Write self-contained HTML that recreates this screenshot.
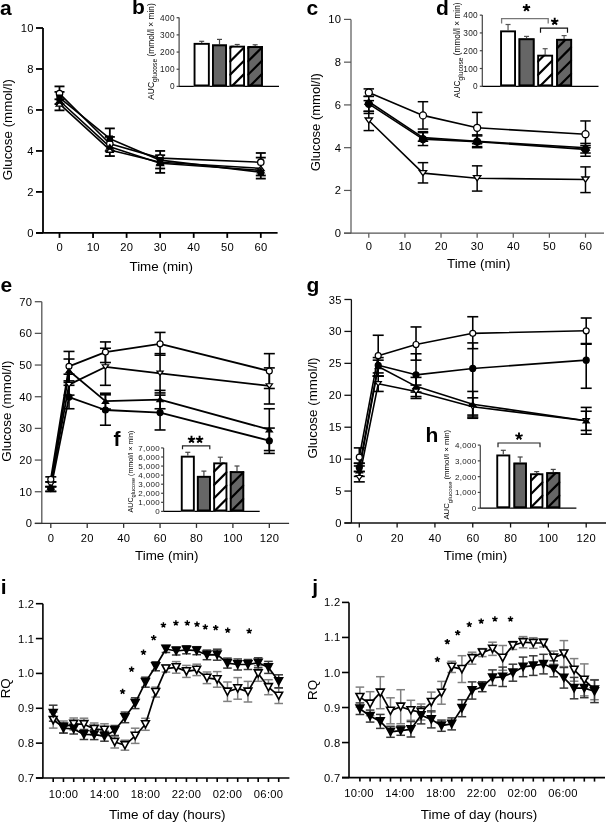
<!DOCTYPE html>
<html><head><meta charset="utf-8"><style>
html,body{margin:0;padding:0;background:#fff;}
svg{display:block;font-family:"Liberation Sans", sans-serif;will-change:transform;}
</style></head><body>
<svg width="606" height="822" viewBox="0 0 606 822">
<rect width="606" height="822" fill="#fff"/>
<text x="0.00" y="14.70" font-size="21" text-anchor="start" font-weight="bold" fill="#000">a</text>
<line x1="43.00" y1="28.00" x2="43.00" y2="232.90" stroke="#000" stroke-width="1.8"/>
<line x1="36.00" y1="232.90" x2="43.00" y2="232.90" stroke="#000" stroke-width="1.8"/>
<text x="33.70" y="236.93" font-size="11.2" text-anchor="end" font-weight="normal" fill="#000" letter-spacing="0.3">0</text>
<line x1="36.00" y1="191.92" x2="43.00" y2="191.92" stroke="#000" stroke-width="1.8"/>
<text x="33.70" y="195.95" font-size="11.2" text-anchor="end" font-weight="normal" fill="#000" letter-spacing="0.3">2</text>
<line x1="36.00" y1="150.94" x2="43.00" y2="150.94" stroke="#000" stroke-width="1.8"/>
<text x="33.70" y="154.97" font-size="11.2" text-anchor="end" font-weight="normal" fill="#000" letter-spacing="0.3">4</text>
<line x1="36.00" y1="109.96" x2="43.00" y2="109.96" stroke="#000" stroke-width="1.8"/>
<text x="33.70" y="113.99" font-size="11.2" text-anchor="end" font-weight="normal" fill="#000" letter-spacing="0.3">6</text>
<line x1="36.00" y1="68.98" x2="43.00" y2="68.98" stroke="#000" stroke-width="1.8"/>
<text x="33.70" y="73.01" font-size="11.2" text-anchor="end" font-weight="normal" fill="#000" letter-spacing="0.3">8</text>
<line x1="36.00" y1="28.00" x2="43.00" y2="28.00" stroke="#000" stroke-width="1.8"/>
<text x="33.70" y="32.03" font-size="11.2" text-anchor="end" font-weight="normal" fill="#000" letter-spacing="0.3">10</text>
<line x1="36.00" y1="232.90" x2="277.60" y2="232.90" stroke="#000" stroke-width="1.8"/>
<line x1="59.50" y1="232.90" x2="59.50" y2="237.90" stroke="#000" stroke-width="1.8"/>
<text x="59.65" y="251.10" font-size="11.2" text-anchor="middle" font-weight="normal" fill="#000" letter-spacing="0.3">0</text>
<line x1="93.05" y1="232.90" x2="93.05" y2="237.90" stroke="#000" stroke-width="1.8"/>
<text x="93.20" y="251.10" font-size="11.2" text-anchor="middle" font-weight="normal" fill="#000" letter-spacing="0.3">10</text>
<line x1="126.60" y1="232.90" x2="126.60" y2="237.90" stroke="#000" stroke-width="1.8"/>
<text x="126.75" y="251.10" font-size="11.2" text-anchor="middle" font-weight="normal" fill="#000" letter-spacing="0.3">20</text>
<line x1="160.15" y1="232.90" x2="160.15" y2="237.90" stroke="#000" stroke-width="1.8"/>
<text x="160.30" y="251.10" font-size="11.2" text-anchor="middle" font-weight="normal" fill="#000" letter-spacing="0.3">30</text>
<line x1="193.70" y1="232.90" x2="193.70" y2="237.90" stroke="#000" stroke-width="1.8"/>
<text x="193.85" y="251.10" font-size="11.2" text-anchor="middle" font-weight="normal" fill="#000" letter-spacing="0.3">40</text>
<line x1="227.25" y1="232.90" x2="227.25" y2="237.90" stroke="#000" stroke-width="1.8"/>
<text x="227.40" y="251.10" font-size="11.2" text-anchor="middle" font-weight="normal" fill="#000" letter-spacing="0.3">50</text>
<line x1="260.80" y1="232.90" x2="260.80" y2="237.90" stroke="#000" stroke-width="1.8"/>
<text x="260.95" y="251.10" font-size="11.2" text-anchor="middle" font-weight="normal" fill="#000" letter-spacing="0.3">60</text>
<text x="161.20" y="270.60" font-size="13.4" text-anchor="middle" font-weight="normal" fill="#000">Time (min)</text>
<text x="12.00" y="129.60" font-size="13.4" text-anchor="middle" font-weight="normal" fill="#000" transform="rotate(-90 12.00 129.60)">Glucose (mmol/l)</text>
<line x1="59.50" y1="86.40" x2="59.50" y2="110.37" stroke="#000" stroke-width="1.8"/>
<line x1="54.50" y1="86.40" x2="64.50" y2="86.40" stroke="#000" stroke-width="1.8"/>
<line x1="54.50" y1="110.37" x2="64.50" y2="110.37" stroke="#000" stroke-width="1.8"/>
<line x1="109.83" y1="128.40" x2="109.83" y2="156.06" stroke="#000" stroke-width="1.8"/>
<line x1="104.83" y1="128.40" x2="114.83" y2="128.40" stroke="#000" stroke-width="1.8"/>
<line x1="104.83" y1="156.06" x2="114.83" y2="156.06" stroke="#000" stroke-width="1.8"/>
<line x1="160.15" y1="150.94" x2="160.15" y2="172.86" stroke="#000" stroke-width="1.8"/>
<line x1="155.15" y1="150.94" x2="165.15" y2="150.94" stroke="#000" stroke-width="1.8"/>
<line x1="155.15" y1="172.86" x2="165.15" y2="172.86" stroke="#000" stroke-width="1.8"/>
<line x1="260.80" y1="152.99" x2="260.80" y2="178.60" stroke="#000" stroke-width="1.8"/>
<line x1="255.80" y1="152.99" x2="265.80" y2="152.99" stroke="#000" stroke-width="1.8"/>
<line x1="255.80" y1="178.60" x2="265.80" y2="178.60" stroke="#000" stroke-width="1.8"/>
<line x1="54.50" y1="91.90" x2="64.50" y2="91.90" stroke="#000" stroke-width="1.8"/>
<line x1="54.50" y1="99.30" x2="64.50" y2="99.30" stroke="#000" stroke-width="1.8"/>
<line x1="54.50" y1="104.10" x2="64.50" y2="104.10" stroke="#000" stroke-width="1.8"/>
<line x1="104.83" y1="136.90" x2="114.83" y2="136.90" stroke="#000" stroke-width="1.8"/>
<line x1="104.83" y1="151.00" x2="114.83" y2="151.00" stroke="#000" stroke-width="1.8"/>
<line x1="155.15" y1="155.20" x2="165.15" y2="155.20" stroke="#000" stroke-width="1.8"/>
<line x1="155.15" y1="168.50" x2="165.15" y2="168.50" stroke="#000" stroke-width="1.8"/>
<line x1="255.80" y1="157.60" x2="265.80" y2="157.60" stroke="#000" stroke-width="1.8"/>
<line x1="255.80" y1="175.50" x2="265.80" y2="175.50" stroke="#000" stroke-width="1.8"/>
<polyline points="59.50,93.57 109.83,143.77 160.15,158.11 260.80,162.21" fill="none" stroke="#000" stroke-width="1.6" stroke-linejoin="round"/>
<polyline points="59.50,97.67 109.83,138.65 160.15,160.16 260.80,172.25" fill="none" stroke="#000" stroke-width="1.6" stroke-linejoin="round"/>
<polyline points="59.50,103.81 109.83,149.92 160.15,162.21 260.80,168.36" fill="none" stroke="#000" stroke-width="1.6" stroke-linejoin="round"/>
<polyline points="59.50,100.74 109.83,146.84 160.15,163.23 260.80,170.41" fill="none" stroke="#000" stroke-width="1.6" stroke-linejoin="round"/>
<circle cx="59.50" cy="93.57" r="3.20" fill="#fff" stroke="#000" stroke-width="1.3"/>
<circle cx="109.83" cy="143.77" r="3.20" fill="#fff" stroke="#000" stroke-width="1.3"/>
<circle cx="160.15" cy="158.11" r="3.20" fill="#fff" stroke="#000" stroke-width="1.3"/>
<circle cx="260.80" cy="162.21" r="3.20" fill="#fff" stroke="#000" stroke-width="1.3"/>
<rect x="56.30" y="94.47" width="6.40" height="6.40" fill="#000"/>
<rect x="106.62" y="135.45" width="6.40" height="6.40" fill="#000"/>
<rect x="156.95" y="156.96" width="6.40" height="6.40" fill="#000"/>
<rect x="257.60" y="169.05" width="6.40" height="6.40" fill="#000"/>
<polygon points="56.14,106.13 62.86,106.13 59.50,101.49" fill="#fff" stroke="#000" stroke-width="1.3" stroke-linejoin="miter"/>
<polygon points="106.47,152.24 113.19,152.24 109.83,147.60" fill="#fff" stroke="#000" stroke-width="1.3" stroke-linejoin="miter"/>
<polygon points="156.79,164.53 163.51,164.53 160.15,159.89" fill="#fff" stroke="#000" stroke-width="1.3" stroke-linejoin="miter"/>
<polygon points="257.44,170.68 264.16,170.68 260.80,166.04" fill="#fff" stroke="#000" stroke-width="1.3" stroke-linejoin="miter"/>
<polygon points="56.14,103.06 62.86,103.06 59.50,98.42" fill="#000" stroke="#000" stroke-width="1.3" stroke-linejoin="miter"/>
<polygon points="106.47,149.16 113.19,149.16 109.83,144.52" fill="#000" stroke="#000" stroke-width="1.3" stroke-linejoin="miter"/>
<polygon points="156.79,165.55 163.51,165.55 160.15,160.91" fill="#000" stroke="#000" stroke-width="1.3" stroke-linejoin="miter"/>
<polygon points="257.44,172.73 264.16,172.73 260.80,168.09" fill="#000" stroke="#000" stroke-width="1.3" stroke-linejoin="miter"/>
<text x="132.00" y="14.40" font-size="21" text-anchor="start" font-weight="bold" fill="#000">b</text>
<line x1="179.10" y1="17.60" x2="179.10" y2="86.40" stroke="#444" stroke-width="1.2"/>
<line x1="176.60" y1="86.40" x2="179.10" y2="86.40" stroke="#444" stroke-width="1.2"/>
<text x="174.80" y="89.39" font-size="8.3" text-anchor="end" font-weight="normal" fill="#222" letter-spacing="0.3">0</text>
<line x1="176.60" y1="69.23" x2="179.10" y2="69.23" stroke="#444" stroke-width="1.2"/>
<text x="174.80" y="72.22" font-size="8.3" text-anchor="end" font-weight="normal" fill="#222" letter-spacing="0.3">100</text>
<line x1="176.60" y1="52.06" x2="179.10" y2="52.06" stroke="#444" stroke-width="1.2"/>
<text x="174.80" y="55.05" font-size="8.3" text-anchor="end" font-weight="normal" fill="#222" letter-spacing="0.3">200</text>
<line x1="176.60" y1="34.89" x2="179.10" y2="34.89" stroke="#444" stroke-width="1.2"/>
<text x="174.80" y="37.88" font-size="8.3" text-anchor="end" font-weight="normal" fill="#222" letter-spacing="0.3">300</text>
<line x1="176.60" y1="17.72" x2="179.10" y2="17.72" stroke="#444" stroke-width="1.2"/>
<text x="174.80" y="20.71" font-size="8.3" text-anchor="end" font-weight="normal" fill="#222" letter-spacing="0.3">400</text>
<line x1="179.10" y1="86.40" x2="279.00" y2="86.40" stroke="#000" stroke-width="1.2"/>
<text x="154.20" y="99.70" font-size="8.4" fill="#000" transform="rotate(-90 154.20 99.70)">AUC<tspan font-size="6.72" dy="2.52">glucose</tspan><tspan dy="-2.52"> (mmol/l × min)</tspan></text>
<line x1="201.70" y1="42.90" x2="201.70" y2="41.30" stroke="#444" stroke-width="1.2"/>
<line x1="199.20" y1="41.30" x2="204.20" y2="41.30" stroke="#444" stroke-width="1.2"/>
<rect x="193.60" y="42.90" width="16.20" height="43.50" fill="#fff" stroke="none"/>
<rect x="194.55" y="43.85" width="14.30" height="41.60" fill="none" stroke="#000" stroke-width="1.9"/>
<line x1="219.50" y1="44.40" x2="219.50" y2="39.40" stroke="#444" stroke-width="1.2"/>
<line x1="217.00" y1="39.40" x2="222.00" y2="39.40" stroke="#444" stroke-width="1.2"/>
<rect x="212.00" y="44.40" width="15.00" height="42.00" fill="#666" stroke="none"/>
<rect x="212.95" y="45.35" width="13.10" height="40.10" fill="none" stroke="#000" stroke-width="1.9"/>
<line x1="237.20" y1="45.70" x2="237.20" y2="44.50" stroke="#444" stroke-width="1.2"/>
<line x1="234.70" y1="44.50" x2="239.70" y2="44.50" stroke="#444" stroke-width="1.2"/>
<rect x="229.40" y="45.70" width="15.60" height="40.70" fill="#fff" stroke="none"/>
<g clip-path="url(#hb2)">
<clipPath id="hb2"><rect x="229.40" y="45.70" width="15.60" height="40.70"/></clipPath>
<line x1="229.40" y1="102.00" x2="245.00" y2="86.40" stroke="#000" stroke-width="2.2"/>
<line x1="229.40" y1="88.70" x2="245.00" y2="73.10" stroke="#000" stroke-width="2.2"/>
<line x1="229.40" y1="75.40" x2="245.00" y2="59.80" stroke="#000" stroke-width="2.2"/>
<line x1="229.40" y1="62.10" x2="245.00" y2="46.50" stroke="#000" stroke-width="2.2"/>
<line x1="229.40" y1="48.80" x2="245.00" y2="33.20" stroke="#000" stroke-width="2.2"/>
</g>
<rect x="230.35" y="46.65" width="13.70" height="38.80" fill="none" stroke="#000" stroke-width="1.9"/>
<line x1="255.15" y1="46.10" x2="255.15" y2="44.80" stroke="#444" stroke-width="1.2"/>
<line x1="252.65" y1="44.80" x2="257.65" y2="44.80" stroke="#444" stroke-width="1.2"/>
<rect x="247.40" y="46.10" width="15.50" height="40.30" fill="#666" stroke="none"/>
<g clip-path="url(#hb3)">
<clipPath id="hb3"><rect x="247.40" y="46.10" width="15.50" height="40.30"/></clipPath>
<line x1="247.40" y1="101.90" x2="262.90" y2="86.40" stroke="#000" stroke-width="2.2"/>
<line x1="247.40" y1="88.60" x2="262.90" y2="73.10" stroke="#000" stroke-width="2.2"/>
<line x1="247.40" y1="75.30" x2="262.90" y2="59.80" stroke="#000" stroke-width="2.2"/>
<line x1="247.40" y1="62.00" x2="262.90" y2="46.50" stroke="#000" stroke-width="2.2"/>
<line x1="247.40" y1="48.70" x2="262.90" y2="33.20" stroke="#000" stroke-width="2.2"/>
</g>
<rect x="248.35" y="47.05" width="13.60" height="38.40" fill="none" stroke="#000" stroke-width="1.9"/>
<text x="306.50" y="15.00" font-size="21" text-anchor="start" font-weight="bold" fill="#000">c</text>
<line x1="351.00" y1="19.40" x2="351.00" y2="233.20" stroke="#555" stroke-width="1.2"/>
<line x1="344.00" y1="233.20" x2="351.00" y2="233.20" stroke="#555" stroke-width="1.2"/>
<text x="341.40" y="237.23" font-size="11.2" text-anchor="end" font-weight="normal" fill="#000" letter-spacing="0.3">0</text>
<line x1="344.00" y1="190.44" x2="351.00" y2="190.44" stroke="#555" stroke-width="1.2"/>
<text x="341.40" y="194.47" font-size="11.2" text-anchor="end" font-weight="normal" fill="#000" letter-spacing="0.3">2</text>
<line x1="344.00" y1="147.68" x2="351.00" y2="147.68" stroke="#555" stroke-width="1.2"/>
<text x="341.40" y="151.71" font-size="11.2" text-anchor="end" font-weight="normal" fill="#000" letter-spacing="0.3">4</text>
<line x1="344.00" y1="104.92" x2="351.00" y2="104.92" stroke="#555" stroke-width="1.2"/>
<text x="341.40" y="108.95" font-size="11.2" text-anchor="end" font-weight="normal" fill="#000" letter-spacing="0.3">6</text>
<line x1="344.00" y1="62.16" x2="351.00" y2="62.16" stroke="#555" stroke-width="1.2"/>
<text x="341.40" y="66.19" font-size="11.2" text-anchor="end" font-weight="normal" fill="#000" letter-spacing="0.3">8</text>
<line x1="344.00" y1="19.40" x2="351.00" y2="19.40" stroke="#555" stroke-width="1.2"/>
<text x="341.40" y="23.43" font-size="11.2" text-anchor="end" font-weight="normal" fill="#000" letter-spacing="0.3">10</text>
<line x1="344.00" y1="233.20" x2="604.00" y2="233.20" stroke="#555" stroke-width="1.2"/>
<line x1="368.80" y1="233.20" x2="368.80" y2="237.70" stroke="#555" stroke-width="1.2"/>
<text x="368.95" y="249.70" font-size="11.2" text-anchor="middle" font-weight="normal" fill="#000" letter-spacing="0.3">0</text>
<line x1="404.92" y1="233.20" x2="404.92" y2="237.70" stroke="#555" stroke-width="1.2"/>
<text x="405.07" y="249.70" font-size="11.2" text-anchor="middle" font-weight="normal" fill="#000" letter-spacing="0.3">10</text>
<line x1="441.03" y1="233.20" x2="441.03" y2="237.70" stroke="#555" stroke-width="1.2"/>
<text x="441.18" y="249.70" font-size="11.2" text-anchor="middle" font-weight="normal" fill="#000" letter-spacing="0.3">20</text>
<line x1="477.15" y1="233.20" x2="477.15" y2="237.70" stroke="#555" stroke-width="1.2"/>
<text x="477.30" y="249.70" font-size="11.2" text-anchor="middle" font-weight="normal" fill="#000" letter-spacing="0.3">30</text>
<line x1="513.27" y1="233.20" x2="513.27" y2="237.70" stroke="#555" stroke-width="1.2"/>
<text x="513.42" y="249.70" font-size="11.2" text-anchor="middle" font-weight="normal" fill="#000" letter-spacing="0.3">40</text>
<line x1="549.38" y1="233.20" x2="549.38" y2="237.70" stroke="#555" stroke-width="1.2"/>
<text x="549.53" y="249.70" font-size="11.2" text-anchor="middle" font-weight="normal" fill="#000" letter-spacing="0.3">50</text>
<line x1="585.50" y1="233.20" x2="585.50" y2="237.70" stroke="#555" stroke-width="1.2"/>
<text x="585.65" y="249.70" font-size="11.2" text-anchor="middle" font-weight="normal" fill="#000" letter-spacing="0.3">60</text>
<text x="478.70" y="268.30" font-size="13.4" text-anchor="middle" font-weight="normal" fill="#000">Time (min)</text>
<text x="320.20" y="122.20" font-size="13.0" text-anchor="middle" font-weight="normal" fill="#000" transform="rotate(-90 320.20 122.20)">Glucose (mmol/l)</text>
<line x1="368.80" y1="88.88" x2="368.80" y2="96.37" stroke="#000" stroke-width="1.5"/>
<line x1="363.55" y1="88.88" x2="374.05" y2="88.88" stroke="#000" stroke-width="1.5"/>
<line x1="363.55" y1="96.37" x2="374.05" y2="96.37" stroke="#000" stroke-width="1.5"/>
<line x1="422.98" y1="101.71" x2="422.98" y2="129.08" stroke="#000" stroke-width="1.5"/>
<line x1="417.73" y1="101.71" x2="428.23" y2="101.71" stroke="#000" stroke-width="1.5"/>
<line x1="417.73" y1="129.08" x2="428.23" y2="129.08" stroke="#000" stroke-width="1.5"/>
<line x1="477.15" y1="112.40" x2="477.15" y2="143.40" stroke="#000" stroke-width="1.5"/>
<line x1="471.90" y1="112.40" x2="482.40" y2="112.40" stroke="#000" stroke-width="1.5"/>
<line x1="471.90" y1="143.40" x2="482.40" y2="143.40" stroke="#000" stroke-width="1.5"/>
<line x1="585.50" y1="120.95" x2="585.50" y2="147.68" stroke="#000" stroke-width="1.5"/>
<line x1="580.25" y1="120.95" x2="590.75" y2="120.95" stroke="#000" stroke-width="1.5"/>
<line x1="580.25" y1="147.68" x2="590.75" y2="147.68" stroke="#000" stroke-width="1.5"/>
<line x1="368.80" y1="96.37" x2="368.80" y2="111.33" stroke="#000" stroke-width="1.5"/>
<line x1="363.55" y1="96.37" x2="374.05" y2="96.37" stroke="#000" stroke-width="1.5"/>
<line x1="363.55" y1="111.33" x2="374.05" y2="111.33" stroke="#000" stroke-width="1.5"/>
<line x1="422.98" y1="132.71" x2="422.98" y2="145.54" stroke="#000" stroke-width="1.5"/>
<line x1="417.73" y1="132.71" x2="428.23" y2="132.71" stroke="#000" stroke-width="1.5"/>
<line x1="417.73" y1="145.54" x2="428.23" y2="145.54" stroke="#000" stroke-width="1.5"/>
<line x1="477.15" y1="134.85" x2="477.15" y2="147.68" stroke="#000" stroke-width="1.5"/>
<line x1="471.90" y1="134.85" x2="482.40" y2="134.85" stroke="#000" stroke-width="1.5"/>
<line x1="471.90" y1="147.68" x2="482.40" y2="147.68" stroke="#000" stroke-width="1.5"/>
<line x1="585.50" y1="145.54" x2="585.50" y2="156.23" stroke="#000" stroke-width="1.5"/>
<line x1="580.25" y1="145.54" x2="590.75" y2="145.54" stroke="#000" stroke-width="1.5"/>
<line x1="580.25" y1="156.23" x2="590.75" y2="156.23" stroke="#000" stroke-width="1.5"/>
<line x1="368.80" y1="100.64" x2="368.80" y2="113.47" stroke="#000" stroke-width="1.5"/>
<line x1="363.55" y1="100.64" x2="374.05" y2="100.64" stroke="#000" stroke-width="1.5"/>
<line x1="363.55" y1="113.47" x2="374.05" y2="113.47" stroke="#000" stroke-width="1.5"/>
<line x1="422.98" y1="131.64" x2="422.98" y2="141.27" stroke="#000" stroke-width="1.5"/>
<line x1="417.73" y1="131.64" x2="428.23" y2="131.64" stroke="#000" stroke-width="1.5"/>
<line x1="417.73" y1="141.27" x2="428.23" y2="141.27" stroke="#000" stroke-width="1.5"/>
<line x1="477.15" y1="135.92" x2="477.15" y2="146.61" stroke="#000" stroke-width="1.5"/>
<line x1="471.90" y1="135.92" x2="482.40" y2="135.92" stroke="#000" stroke-width="1.5"/>
<line x1="471.90" y1="146.61" x2="482.40" y2="146.61" stroke="#000" stroke-width="1.5"/>
<line x1="585.50" y1="143.40" x2="585.50" y2="153.02" stroke="#000" stroke-width="1.5"/>
<line x1="580.25" y1="143.40" x2="590.75" y2="143.40" stroke="#000" stroke-width="1.5"/>
<line x1="580.25" y1="153.02" x2="590.75" y2="153.02" stroke="#000" stroke-width="1.5"/>
<line x1="368.80" y1="111.33" x2="368.80" y2="130.58" stroke="#000" stroke-width="1.5"/>
<line x1="363.55" y1="111.33" x2="374.05" y2="111.33" stroke="#000" stroke-width="1.5"/>
<line x1="363.55" y1="130.58" x2="374.05" y2="130.58" stroke="#000" stroke-width="1.5"/>
<line x1="422.98" y1="162.65" x2="422.98" y2="182.96" stroke="#000" stroke-width="1.5"/>
<line x1="417.73" y1="162.65" x2="428.23" y2="162.65" stroke="#000" stroke-width="1.5"/>
<line x1="417.73" y1="182.96" x2="428.23" y2="182.96" stroke="#000" stroke-width="1.5"/>
<line x1="477.15" y1="165.85" x2="477.15" y2="191.08" stroke="#000" stroke-width="1.5"/>
<line x1="471.90" y1="165.85" x2="482.40" y2="165.85" stroke="#000" stroke-width="1.5"/>
<line x1="471.90" y1="191.08" x2="482.40" y2="191.08" stroke="#000" stroke-width="1.5"/>
<line x1="585.50" y1="166.92" x2="585.50" y2="192.58" stroke="#000" stroke-width="1.5"/>
<line x1="580.25" y1="166.92" x2="590.75" y2="166.92" stroke="#000" stroke-width="1.5"/>
<line x1="580.25" y1="192.58" x2="590.75" y2="192.58" stroke="#000" stroke-width="1.5"/>
<polyline points="368.80,92.52 422.98,115.40 477.15,127.80 585.50,134.21" fill="none" stroke="#000" stroke-width="1.6" stroke-linejoin="round"/>
<polyline points="368.80,103.85 422.98,139.13 477.15,141.69 585.50,149.39" fill="none" stroke="#000" stroke-width="1.6" stroke-linejoin="round"/>
<polyline points="368.80,101.71 422.98,137.63 477.15,141.27 585.50,147.68" fill="none" stroke="#000" stroke-width="1.6" stroke-linejoin="round"/>
<polyline points="368.80,120.53 422.98,173.12 477.15,178.25 585.50,179.54" fill="none" stroke="#000" stroke-width="1.6" stroke-linejoin="round"/>
<circle cx="368.80" cy="92.52" r="3.50" fill="#fff" stroke="#000" stroke-width="1.3"/>
<circle cx="422.98" cy="115.40" r="3.50" fill="#fff" stroke="#000" stroke-width="1.3"/>
<circle cx="477.15" cy="127.80" r="3.50" fill="#fff" stroke="#000" stroke-width="1.3"/>
<circle cx="585.50" cy="134.21" r="3.50" fill="#fff" stroke="#000" stroke-width="1.3"/>
<circle cx="368.80" cy="103.85" r="3.50" fill="#000" stroke="#000" stroke-width="1.3"/>
<circle cx="422.98" cy="139.13" r="3.50" fill="#000" stroke="#000" stroke-width="1.3"/>
<circle cx="477.15" cy="141.69" r="3.50" fill="#000" stroke="#000" stroke-width="1.3"/>
<circle cx="585.50" cy="149.39" r="3.50" fill="#000" stroke="#000" stroke-width="1.3"/>
<polygon points="365.12,104.25 372.48,104.25 368.80,99.18" fill="#000" stroke="#000" stroke-width="1.3" stroke-linejoin="miter"/>
<polygon points="419.30,140.17 426.65,140.17 422.98,135.09" fill="#000" stroke="#000" stroke-width="1.3" stroke-linejoin="miter"/>
<polygon points="473.48,143.80 480.83,143.80 477.15,138.73" fill="#000" stroke="#000" stroke-width="1.3" stroke-linejoin="miter"/>
<polygon points="581.83,150.22 589.18,150.22 585.50,145.14" fill="#000" stroke="#000" stroke-width="1.3" stroke-linejoin="miter"/>
<polygon points="365.12,117.99 372.48,117.99 368.80,123.06" fill="#fff" stroke="#000" stroke-width="1.3" stroke-linejoin="miter"/>
<polygon points="419.30,170.58 426.65,170.58 422.98,175.66" fill="#fff" stroke="#000" stroke-width="1.3" stroke-linejoin="miter"/>
<polygon points="473.48,175.72 480.83,175.72 477.15,180.79" fill="#fff" stroke="#000" stroke-width="1.3" stroke-linejoin="miter"/>
<polygon points="581.83,177.00 589.18,177.00 585.50,182.07" fill="#fff" stroke="#000" stroke-width="1.3" stroke-linejoin="miter"/>
<text x="436.00" y="14.50" font-size="21" text-anchor="start" font-weight="bold" fill="#000">d</text>
<line x1="482.30" y1="15.10" x2="482.30" y2="86.30" stroke="#444" stroke-width="1.2"/>
<line x1="479.80" y1="86.30" x2="482.30" y2="86.30" stroke="#444" stroke-width="1.2"/>
<text x="478.00" y="89.29" font-size="8.3" text-anchor="end" font-weight="normal" fill="#222" letter-spacing="0.3">0</text>
<line x1="479.80" y1="68.51" x2="482.30" y2="68.51" stroke="#444" stroke-width="1.2"/>
<text x="478.00" y="71.50" font-size="8.3" text-anchor="end" font-weight="normal" fill="#222" letter-spacing="0.3">100</text>
<line x1="479.80" y1="50.72" x2="482.30" y2="50.72" stroke="#444" stroke-width="1.2"/>
<text x="478.00" y="53.71" font-size="8.3" text-anchor="end" font-weight="normal" fill="#222" letter-spacing="0.3">200</text>
<line x1="479.80" y1="32.93" x2="482.30" y2="32.93" stroke="#444" stroke-width="1.2"/>
<text x="478.00" y="35.92" font-size="8.3" text-anchor="end" font-weight="normal" fill="#222" letter-spacing="0.3">300</text>
<line x1="479.80" y1="15.14" x2="482.30" y2="15.14" stroke="#444" stroke-width="1.2"/>
<text x="478.00" y="18.13" font-size="8.3" text-anchor="end" font-weight="normal" fill="#222" letter-spacing="0.3">400</text>
<line x1="482.30" y1="86.30" x2="598.50" y2="86.30" stroke="#000" stroke-width="1.2"/>
<text x="460.20" y="97.90" font-size="8.3" fill="#000" transform="rotate(-90 460.20 97.90)">AUC<tspan font-size="6.64" dy="2.49">glucose</tspan><tspan dy="-2.49"> (mmol/l × min)</tspan></text>
<line x1="508.05" y1="30.40" x2="508.05" y2="24.50" stroke="#555" stroke-width="1.2"/>
<line x1="505.55" y1="24.50" x2="510.55" y2="24.50" stroke="#555" stroke-width="1.2"/>
<rect x="500.10" y="30.40" width="15.90" height="55.90" fill="#fff" stroke="none"/>
<rect x="501.05" y="31.35" width="14.00" height="54.00" fill="none" stroke="#000" stroke-width="1.9"/>
<line x1="526.55" y1="38.30" x2="526.55" y2="36.40" stroke="#555" stroke-width="1.2"/>
<line x1="524.05" y1="36.40" x2="529.05" y2="36.40" stroke="#555" stroke-width="1.2"/>
<rect x="518.50" y="38.30" width="16.10" height="48.00" fill="#666" stroke="none"/>
<rect x="519.45" y="39.25" width="14.20" height="46.10" fill="none" stroke="#000" stroke-width="1.9"/>
<line x1="545.15" y1="54.70" x2="545.15" y2="48.70" stroke="#555" stroke-width="1.2"/>
<line x1="542.65" y1="48.70" x2="547.65" y2="48.70" stroke="#555" stroke-width="1.2"/>
<rect x="537.20" y="54.70" width="15.90" height="31.60" fill="#fff" stroke="none"/>
<g clip-path="url(#hd2)">
<clipPath id="hd2"><rect x="537.20" y="54.70" width="15.90" height="31.60"/></clipPath>
<line x1="537.20" y1="102.20" x2="553.10" y2="86.30" stroke="#000" stroke-width="2.2"/>
<line x1="537.20" y1="88.90" x2="553.10" y2="73.00" stroke="#000" stroke-width="2.2"/>
<line x1="537.20" y1="75.60" x2="553.10" y2="59.70" stroke="#000" stroke-width="2.2"/>
<line x1="537.20" y1="62.30" x2="553.10" y2="46.40" stroke="#000" stroke-width="2.2"/>
</g>
<rect x="538.15" y="55.65" width="14.00" height="29.70" fill="none" stroke="#000" stroke-width="1.9"/>
<line x1="564.10" y1="38.90" x2="564.10" y2="35.60" stroke="#555" stroke-width="1.2"/>
<line x1="561.60" y1="35.60" x2="566.60" y2="35.60" stroke="#555" stroke-width="1.2"/>
<rect x="556.10" y="38.90" width="16.00" height="47.40" fill="#666" stroke="none"/>
<g clip-path="url(#hd3)">
<clipPath id="hd3"><rect x="556.10" y="38.90" width="16.00" height="47.40"/></clipPath>
<line x1="556.10" y1="102.30" x2="572.10" y2="86.30" stroke="#000" stroke-width="2.2"/>
<line x1="556.10" y1="89.00" x2="572.10" y2="73.00" stroke="#000" stroke-width="2.2"/>
<line x1="556.10" y1="75.70" x2="572.10" y2="59.70" stroke="#000" stroke-width="2.2"/>
<line x1="556.10" y1="62.40" x2="572.10" y2="46.40" stroke="#000" stroke-width="2.2"/>
<line x1="556.10" y1="49.10" x2="572.10" y2="33.10" stroke="#000" stroke-width="2.2"/>
</g>
<rect x="557.05" y="39.85" width="14.10" height="45.50" fill="none" stroke="#000" stroke-width="1.9"/>
<polyline points="501.6,23.5 501.6,18.6 548.2,18.6 548.2,23.5" fill="none" stroke="#777" stroke-width="1.3"/>
<polyline points="540.5,32.7 540.5,28.2 567.5,28.2 567.5,32.7" fill="none" stroke="#111" stroke-width="1.2"/>
<path d="M526.50,7.90L526.50,4.10M526.50,7.90L530.11,6.73M526.50,7.90L528.73,10.97M526.50,7.90L524.27,10.97M526.50,7.90L522.89,6.73" stroke="#000" stroke-width="1.9" stroke-linecap="butt" fill="none"/>
<path d="M554.70,21.60L554.70,17.80M554.70,21.60L558.31,20.43M554.70,21.60L556.93,24.67M554.70,21.60L552.47,24.67M554.70,21.60L551.09,20.43" stroke="#000" stroke-width="1.9" stroke-linecap="butt" fill="none"/>
<text x="0.50" y="291.80" font-size="21" text-anchor="start" font-weight="bold" fill="#000">e</text>
<line x1="41.80" y1="301.70" x2="41.80" y2="523.40" stroke="#555" stroke-width="1.3"/>
<line x1="34.80" y1="523.40" x2="41.80" y2="523.40" stroke="#555" stroke-width="1.3"/>
<text x="32.20" y="527.43" font-size="11.2" text-anchor="end" font-weight="normal" fill="#000" letter-spacing="0.3">0</text>
<line x1="34.80" y1="491.73" x2="41.80" y2="491.73" stroke="#555" stroke-width="1.3"/>
<text x="32.20" y="495.76" font-size="11.2" text-anchor="end" font-weight="normal" fill="#000" letter-spacing="0.3">10</text>
<line x1="34.80" y1="460.06" x2="41.80" y2="460.06" stroke="#555" stroke-width="1.3"/>
<text x="32.20" y="464.09" font-size="11.2" text-anchor="end" font-weight="normal" fill="#000" letter-spacing="0.3">20</text>
<line x1="34.80" y1="428.39" x2="41.80" y2="428.39" stroke="#555" stroke-width="1.3"/>
<text x="32.20" y="432.42" font-size="11.2" text-anchor="end" font-weight="normal" fill="#000" letter-spacing="0.3">30</text>
<line x1="34.80" y1="396.72" x2="41.80" y2="396.72" stroke="#555" stroke-width="1.3"/>
<text x="32.20" y="400.75" font-size="11.2" text-anchor="end" font-weight="normal" fill="#000" letter-spacing="0.3">40</text>
<line x1="34.80" y1="365.04" x2="41.80" y2="365.04" stroke="#555" stroke-width="1.3"/>
<text x="32.20" y="369.08" font-size="11.2" text-anchor="end" font-weight="normal" fill="#000" letter-spacing="0.3">50</text>
<line x1="34.80" y1="333.37" x2="41.80" y2="333.37" stroke="#555" stroke-width="1.3"/>
<text x="32.20" y="337.41" font-size="11.2" text-anchor="end" font-weight="normal" fill="#000" letter-spacing="0.3">60</text>
<line x1="34.80" y1="301.70" x2="41.80" y2="301.70" stroke="#555" stroke-width="1.3"/>
<text x="32.20" y="305.73" font-size="11.2" text-anchor="end" font-weight="normal" fill="#000" letter-spacing="0.3">70</text>
<line x1="34.80" y1="523.40" x2="289.10" y2="523.40" stroke="#333" stroke-width="1.3"/>
<line x1="50.80" y1="523.40" x2="50.80" y2="527.90" stroke="#333" stroke-width="1.3"/>
<text x="50.95" y="541.60" font-size="11.2" text-anchor="middle" font-weight="normal" fill="#000" letter-spacing="0.3">0</text>
<line x1="87.22" y1="523.40" x2="87.22" y2="527.90" stroke="#333" stroke-width="1.3"/>
<text x="87.37" y="541.60" font-size="11.2" text-anchor="middle" font-weight="normal" fill="#000" letter-spacing="0.3">20</text>
<line x1="123.64" y1="523.40" x2="123.64" y2="527.90" stroke="#333" stroke-width="1.3"/>
<text x="123.79" y="541.60" font-size="11.2" text-anchor="middle" font-weight="normal" fill="#000" letter-spacing="0.3">40</text>
<line x1="160.06" y1="523.40" x2="160.06" y2="527.90" stroke="#333" stroke-width="1.3"/>
<text x="160.21" y="541.60" font-size="11.2" text-anchor="middle" font-weight="normal" fill="#000" letter-spacing="0.3">60</text>
<line x1="196.48" y1="523.40" x2="196.48" y2="527.90" stroke="#333" stroke-width="1.3"/>
<text x="196.63" y="541.60" font-size="11.2" text-anchor="middle" font-weight="normal" fill="#000" letter-spacing="0.3">80</text>
<line x1="232.90" y1="523.40" x2="232.90" y2="527.90" stroke="#333" stroke-width="1.3"/>
<text x="233.05" y="541.60" font-size="11.2" text-anchor="middle" font-weight="normal" fill="#000" letter-spacing="0.3">100</text>
<line x1="269.32" y1="523.40" x2="269.32" y2="527.90" stroke="#333" stroke-width="1.3"/>
<text x="269.47" y="541.60" font-size="11.2" text-anchor="middle" font-weight="normal" fill="#000" letter-spacing="0.3">120</text>
<text x="166.80" y="560.10" font-size="13.4" text-anchor="middle" font-weight="normal" fill="#000">Time (min)</text>
<text x="11.00" y="411.10" font-size="13.4" text-anchor="middle" font-weight="normal" fill="#000" transform="rotate(-90 11.00 411.10)">Glucose (mmol/l)</text>
<line x1="50.80" y1="476.84" x2="50.80" y2="481.91" stroke="#000" stroke-width="1.6"/>
<line x1="45.30" y1="476.84" x2="56.30" y2="476.84" stroke="#000" stroke-width="1.6"/>
<line x1="45.30" y1="481.91" x2="56.30" y2="481.91" stroke="#000" stroke-width="1.6"/>
<line x1="69.01" y1="351.43" x2="69.01" y2="380.88" stroke="#000" stroke-width="1.6"/>
<line x1="63.51" y1="351.43" x2="74.51" y2="351.43" stroke="#000" stroke-width="1.6"/>
<line x1="63.51" y1="380.88" x2="74.51" y2="380.88" stroke="#000" stroke-width="1.6"/>
<line x1="105.43" y1="341.93" x2="105.43" y2="362.51" stroke="#000" stroke-width="1.6"/>
<line x1="99.93" y1="341.93" x2="110.93" y2="341.93" stroke="#000" stroke-width="1.6"/>
<line x1="99.93" y1="362.51" x2="110.93" y2="362.51" stroke="#000" stroke-width="1.6"/>
<line x1="160.06" y1="332.42" x2="160.06" y2="355.23" stroke="#000" stroke-width="1.6"/>
<line x1="154.56" y1="332.42" x2="165.56" y2="332.42" stroke="#000" stroke-width="1.6"/>
<line x1="154.56" y1="355.23" x2="165.56" y2="355.23" stroke="#000" stroke-width="1.6"/>
<line x1="269.32" y1="353.64" x2="269.32" y2="388.48" stroke="#000" stroke-width="1.6"/>
<line x1="263.82" y1="353.64" x2="274.82" y2="353.64" stroke="#000" stroke-width="1.6"/>
<line x1="263.82" y1="388.48" x2="274.82" y2="388.48" stroke="#000" stroke-width="1.6"/>
<line x1="50.80" y1="481.91" x2="50.80" y2="486.66" stroke="#000" stroke-width="1.6"/>
<line x1="45.30" y1="481.91" x2="56.30" y2="481.91" stroke="#000" stroke-width="1.6"/>
<line x1="45.30" y1="486.66" x2="56.30" y2="486.66" stroke="#000" stroke-width="1.6"/>
<line x1="69.01" y1="374.23" x2="69.01" y2="395.13" stroke="#000" stroke-width="1.6"/>
<line x1="63.51" y1="374.23" x2="74.51" y2="374.23" stroke="#000" stroke-width="1.6"/>
<line x1="63.51" y1="395.13" x2="74.51" y2="395.13" stroke="#000" stroke-width="1.6"/>
<line x1="105.43" y1="348.26" x2="105.43" y2="385.31" stroke="#000" stroke-width="1.6"/>
<line x1="99.93" y1="348.26" x2="110.93" y2="348.26" stroke="#000" stroke-width="1.6"/>
<line x1="99.93" y1="385.31" x2="110.93" y2="385.31" stroke="#000" stroke-width="1.6"/>
<line x1="160.06" y1="353.64" x2="160.06" y2="392.92" stroke="#000" stroke-width="1.6"/>
<line x1="154.56" y1="353.64" x2="165.56" y2="353.64" stroke="#000" stroke-width="1.6"/>
<line x1="154.56" y1="392.92" x2="165.56" y2="392.92" stroke="#000" stroke-width="1.6"/>
<line x1="269.32" y1="367.90" x2="269.32" y2="404.00" stroke="#000" stroke-width="1.6"/>
<line x1="263.82" y1="367.90" x2="274.82" y2="367.90" stroke="#000" stroke-width="1.6"/>
<line x1="263.82" y1="404.00" x2="274.82" y2="404.00" stroke="#000" stroke-width="1.6"/>
<line x1="50.80" y1="486.66" x2="50.80" y2="491.41" stroke="#000" stroke-width="1.6"/>
<line x1="45.30" y1="486.66" x2="56.30" y2="486.66" stroke="#000" stroke-width="1.6"/>
<line x1="45.30" y1="491.41" x2="56.30" y2="491.41" stroke="#000" stroke-width="1.6"/>
<line x1="69.01" y1="359.03" x2="69.01" y2="382.46" stroke="#000" stroke-width="1.6"/>
<line x1="63.51" y1="359.03" x2="74.51" y2="359.03" stroke="#000" stroke-width="1.6"/>
<line x1="63.51" y1="382.46" x2="74.51" y2="382.46" stroke="#000" stroke-width="1.6"/>
<line x1="105.43" y1="393.23" x2="105.43" y2="409.07" stroke="#000" stroke-width="1.6"/>
<line x1="99.93" y1="393.23" x2="110.93" y2="393.23" stroke="#000" stroke-width="1.6"/>
<line x1="99.93" y1="409.07" x2="110.93" y2="409.07" stroke="#000" stroke-width="1.6"/>
<line x1="160.06" y1="390.38" x2="160.06" y2="408.75" stroke="#000" stroke-width="1.6"/>
<line x1="154.56" y1="390.38" x2="165.56" y2="390.38" stroke="#000" stroke-width="1.6"/>
<line x1="154.56" y1="408.75" x2="165.56" y2="408.75" stroke="#000" stroke-width="1.6"/>
<line x1="269.32" y1="408.75" x2="269.32" y2="450.56" stroke="#000" stroke-width="1.6"/>
<line x1="263.82" y1="408.75" x2="274.82" y2="408.75" stroke="#000" stroke-width="1.6"/>
<line x1="263.82" y1="450.56" x2="274.82" y2="450.56" stroke="#000" stroke-width="1.6"/>
<line x1="50.80" y1="486.66" x2="50.80" y2="491.41" stroke="#000" stroke-width="1.6"/>
<line x1="45.30" y1="486.66" x2="56.30" y2="486.66" stroke="#000" stroke-width="1.6"/>
<line x1="45.30" y1="491.41" x2="56.30" y2="491.41" stroke="#000" stroke-width="1.6"/>
<line x1="69.01" y1="385.31" x2="69.01" y2="408.75" stroke="#000" stroke-width="1.6"/>
<line x1="63.51" y1="385.31" x2="74.51" y2="385.31" stroke="#000" stroke-width="1.6"/>
<line x1="63.51" y1="408.75" x2="74.51" y2="408.75" stroke="#000" stroke-width="1.6"/>
<line x1="105.43" y1="394.82" x2="105.43" y2="425.22" stroke="#000" stroke-width="1.6"/>
<line x1="99.93" y1="394.82" x2="110.93" y2="394.82" stroke="#000" stroke-width="1.6"/>
<line x1="99.93" y1="425.22" x2="110.93" y2="425.22" stroke="#000" stroke-width="1.6"/>
<line x1="160.06" y1="395.13" x2="160.06" y2="429.97" stroke="#000" stroke-width="1.6"/>
<line x1="154.56" y1="395.13" x2="165.56" y2="395.13" stroke="#000" stroke-width="1.6"/>
<line x1="154.56" y1="429.97" x2="165.56" y2="429.97" stroke="#000" stroke-width="1.6"/>
<line x1="269.32" y1="428.07" x2="269.32" y2="453.41" stroke="#000" stroke-width="1.6"/>
<line x1="263.82" y1="428.07" x2="274.82" y2="428.07" stroke="#000" stroke-width="1.6"/>
<line x1="263.82" y1="453.41" x2="274.82" y2="453.41" stroke="#000" stroke-width="1.6"/>
<polyline points="50.80,479.38 69.01,366.31 105.43,352.06 160.06,343.83 269.32,371.06" fill="none" stroke="#000" stroke-width="1.8" stroke-linejoin="round"/>
<polyline points="50.80,484.44 69.01,384.68 105.43,366.95 160.06,373.28 269.32,385.95" fill="none" stroke="#000" stroke-width="1.8" stroke-linejoin="round"/>
<polyline points="50.80,486.98 69.01,370.75 105.43,401.15 160.06,399.57 269.32,429.65" fill="none" stroke="#000" stroke-width="1.8" stroke-linejoin="round"/>
<polyline points="50.80,488.56 69.01,397.03 105.43,410.02 160.06,412.55 269.32,440.74" fill="none" stroke="#000" stroke-width="1.8" stroke-linejoin="round"/>
<circle cx="50.80" cy="479.38" r="3.00" fill="#fff" stroke="#000" stroke-width="1.2"/>
<circle cx="69.01" cy="366.31" r="3.00" fill="#fff" stroke="#000" stroke-width="1.2"/>
<circle cx="105.43" cy="352.06" r="3.00" fill="#fff" stroke="#000" stroke-width="1.2"/>
<circle cx="160.06" cy="343.83" r="3.00" fill="#fff" stroke="#000" stroke-width="1.2"/>
<circle cx="269.32" cy="371.06" r="3.00" fill="#fff" stroke="#000" stroke-width="1.2"/>
<polygon points="47.65,482.27 53.95,482.27 50.80,486.62" fill="#fff" stroke="#000" stroke-width="1.2" stroke-linejoin="miter"/>
<polygon points="65.86,382.51 72.16,382.51 69.01,386.86" fill="#fff" stroke="#000" stroke-width="1.2" stroke-linejoin="miter"/>
<polygon points="102.28,364.77 108.58,364.77 105.43,369.12" fill="#fff" stroke="#000" stroke-width="1.2" stroke-linejoin="miter"/>
<polygon points="156.91,371.10 163.21,371.10 160.06,375.45" fill="#fff" stroke="#000" stroke-width="1.2" stroke-linejoin="miter"/>
<polygon points="266.17,383.77 272.47,383.77 269.32,388.12" fill="#fff" stroke="#000" stroke-width="1.2" stroke-linejoin="miter"/>
<polygon points="47.65,489.15 53.95,489.15 50.80,484.80" fill="#000" stroke="#000" stroke-width="1.2" stroke-linejoin="miter"/>
<polygon points="65.86,372.92 72.16,372.92 69.01,368.57" fill="#000" stroke="#000" stroke-width="1.2" stroke-linejoin="miter"/>
<polygon points="102.28,403.32 108.58,403.32 105.43,398.97" fill="#000" stroke="#000" stroke-width="1.2" stroke-linejoin="miter"/>
<polygon points="156.91,401.74 163.21,401.74 160.06,397.39" fill="#000" stroke="#000" stroke-width="1.2" stroke-linejoin="miter"/>
<polygon points="266.17,431.83 272.47,431.83 269.32,427.48" fill="#000" stroke="#000" stroke-width="1.2" stroke-linejoin="miter"/>
<circle cx="50.80" cy="488.56" r="3.00" fill="#000" stroke="#000" stroke-width="1.2"/>
<circle cx="69.01" cy="397.03" r="3.00" fill="#000" stroke="#000" stroke-width="1.2"/>
<circle cx="105.43" cy="410.02" r="3.00" fill="#000" stroke="#000" stroke-width="1.2"/>
<circle cx="160.06" cy="412.55" r="3.00" fill="#000" stroke="#000" stroke-width="1.2"/>
<circle cx="269.32" cy="440.74" r="3.00" fill="#000" stroke="#000" stroke-width="1.2"/>
<text x="113.50" y="445.90" font-size="21" text-anchor="start" font-weight="bold" fill="#000">f</text>
<line x1="163.60" y1="448.00" x2="163.60" y2="511.40" stroke="#444" stroke-width="1.2"/>
<line x1="161.10" y1="511.40" x2="163.60" y2="511.40" stroke="#444" stroke-width="1.2"/>
<text x="159.90" y="514.28" font-size="8.0" text-anchor="end" font-weight="normal" fill="#222" letter-spacing="0.3">0</text>
<line x1="161.10" y1="502.33" x2="163.60" y2="502.33" stroke="#444" stroke-width="1.2"/>
<text x="159.90" y="505.21" font-size="8.0" text-anchor="end" font-weight="normal" fill="#222" letter-spacing="0.3">1,000</text>
<line x1="161.10" y1="493.27" x2="163.60" y2="493.27" stroke="#444" stroke-width="1.2"/>
<text x="159.90" y="496.15" font-size="8.0" text-anchor="end" font-weight="normal" fill="#222" letter-spacing="0.3">2,000</text>
<line x1="161.10" y1="484.20" x2="163.60" y2="484.20" stroke="#444" stroke-width="1.2"/>
<text x="159.90" y="487.08" font-size="8.0" text-anchor="end" font-weight="normal" fill="#222" letter-spacing="0.3">3,000</text>
<line x1="161.10" y1="475.13" x2="163.60" y2="475.13" stroke="#444" stroke-width="1.2"/>
<text x="159.90" y="478.01" font-size="8.0" text-anchor="end" font-weight="normal" fill="#222" letter-spacing="0.3">4,000</text>
<line x1="161.10" y1="466.06" x2="163.60" y2="466.06" stroke="#444" stroke-width="1.2"/>
<text x="159.90" y="468.94" font-size="8.0" text-anchor="end" font-weight="normal" fill="#222" letter-spacing="0.3">5,000</text>
<line x1="161.10" y1="457.00" x2="163.60" y2="457.00" stroke="#444" stroke-width="1.2"/>
<text x="159.90" y="459.88" font-size="8.0" text-anchor="end" font-weight="normal" fill="#222" letter-spacing="0.3">6,000</text>
<line x1="161.10" y1="447.93" x2="163.60" y2="447.93" stroke="#444" stroke-width="1.2"/>
<text x="159.90" y="450.81" font-size="8.0" text-anchor="end" font-weight="normal" fill="#222" letter-spacing="0.3">7,000</text>
<line x1="163.60" y1="511.40" x2="259.70" y2="511.40" stroke="#000" stroke-width="1.2"/>
<text x="133.30" y="512.40" font-size="7.1" fill="#000" transform="rotate(-90 133.30 512.40)">AUC<tspan font-size="5.68" dy="2.13">glucose</tspan><tspan dy="-2.13"> (mmol/l × min)</tspan></text>
<line x1="187.80" y1="455.70" x2="187.80" y2="452.30" stroke="#444" stroke-width="1.2"/>
<line x1="185.30" y1="452.30" x2="190.30" y2="452.30" stroke="#444" stroke-width="1.2"/>
<rect x="180.80" y="455.70" width="14.00" height="55.70" fill="#fff" stroke="none"/>
<rect x="181.75" y="456.65" width="12.10" height="53.80" fill="none" stroke="#000" stroke-width="1.9"/>
<line x1="203.90" y1="475.90" x2="203.90" y2="471.10" stroke="#444" stroke-width="1.2"/>
<line x1="201.40" y1="471.10" x2="206.40" y2="471.10" stroke="#444" stroke-width="1.2"/>
<rect x="196.90" y="475.90" width="14.00" height="35.50" fill="#666" stroke="none"/>
<rect x="197.85" y="476.85" width="12.10" height="33.60" fill="none" stroke="#000" stroke-width="1.9"/>
<line x1="220.30" y1="462.40" x2="220.30" y2="457.20" stroke="#444" stroke-width="1.2"/>
<line x1="217.80" y1="457.20" x2="222.80" y2="457.20" stroke="#444" stroke-width="1.2"/>
<rect x="213.20" y="462.40" width="14.20" height="49.00" fill="#fff" stroke="none"/>
<g clip-path="url(#hf2)">
<clipPath id="hf2"><rect x="213.20" y="462.40" width="14.20" height="49.00"/></clipPath>
<line x1="213.20" y1="525.60" x2="227.40" y2="511.40" stroke="#000" stroke-width="2.2"/>
<line x1="213.20" y1="512.30" x2="227.40" y2="498.10" stroke="#000" stroke-width="2.2"/>
<line x1="213.20" y1="499.00" x2="227.40" y2="484.80" stroke="#000" stroke-width="2.2"/>
<line x1="213.20" y1="485.70" x2="227.40" y2="471.50" stroke="#000" stroke-width="2.2"/>
<line x1="213.20" y1="472.40" x2="227.40" y2="458.20" stroke="#000" stroke-width="2.2"/>
</g>
<rect x="214.15" y="463.35" width="12.30" height="47.10" fill="none" stroke="#000" stroke-width="1.9"/>
<line x1="237.00" y1="471.20" x2="237.00" y2="466.00" stroke="#444" stroke-width="1.2"/>
<line x1="234.50" y1="466.00" x2="239.50" y2="466.00" stroke="#444" stroke-width="1.2"/>
<rect x="229.80" y="471.20" width="14.40" height="40.20" fill="#666" stroke="none"/>
<g clip-path="url(#hf3)">
<clipPath id="hf3"><rect x="229.80" y="471.20" width="14.40" height="40.20"/></clipPath>
<line x1="229.80" y1="525.80" x2="244.20" y2="511.40" stroke="#000" stroke-width="2.2"/>
<line x1="229.80" y1="512.50" x2="244.20" y2="498.10" stroke="#000" stroke-width="2.2"/>
<line x1="229.80" y1="499.20" x2="244.20" y2="484.80" stroke="#000" stroke-width="2.2"/>
<line x1="229.80" y1="485.90" x2="244.20" y2="471.50" stroke="#000" stroke-width="2.2"/>
<line x1="229.80" y1="472.60" x2="244.20" y2="458.20" stroke="#000" stroke-width="2.2"/>
</g>
<rect x="230.75" y="472.15" width="12.50" height="38.30" fill="none" stroke="#000" stroke-width="1.9"/>
<polyline points="182.5,449.2 182.5,445.8 209.8,445.8 209.8,449.2" fill="none" stroke="#222" stroke-width="1.2"/>
<path d="M191.50,439.60L191.50,435.80M191.50,439.60L195.11,438.43M191.50,439.60L193.73,442.67M191.50,439.60L189.27,442.67M191.50,439.60L187.89,438.43" stroke="#000" stroke-width="1.9" stroke-linecap="butt" fill="none"/>
<path d="M199.60,439.60L199.60,435.80M199.60,439.60L203.21,438.43M199.60,439.60L201.83,442.67M199.60,439.60L197.37,442.67M199.60,439.60L195.99,438.43" stroke="#000" stroke-width="1.9" stroke-linecap="butt" fill="none"/>
<text x="306.50" y="291.80" font-size="21" text-anchor="start" font-weight="bold" fill="#000">g</text>
<line x1="351.40" y1="299.40" x2="351.40" y2="523.00" stroke="#111" stroke-width="1.3"/>
<line x1="344.40" y1="523.00" x2="351.40" y2="523.00" stroke="#111" stroke-width="1.3"/>
<text x="341.80" y="527.03" font-size="11.2" text-anchor="end" font-weight="normal" fill="#000" letter-spacing="0.3">0</text>
<line x1="344.40" y1="491.07" x2="351.40" y2="491.07" stroke="#111" stroke-width="1.3"/>
<text x="341.80" y="495.10" font-size="11.2" text-anchor="end" font-weight="normal" fill="#000" letter-spacing="0.3">5</text>
<line x1="344.40" y1="459.14" x2="351.40" y2="459.14" stroke="#111" stroke-width="1.3"/>
<text x="341.80" y="463.17" font-size="11.2" text-anchor="end" font-weight="normal" fill="#000" letter-spacing="0.3">10</text>
<line x1="344.40" y1="427.21" x2="351.40" y2="427.21" stroke="#111" stroke-width="1.3"/>
<text x="341.80" y="431.24" font-size="11.2" text-anchor="end" font-weight="normal" fill="#000" letter-spacing="0.3">15</text>
<line x1="344.40" y1="395.28" x2="351.40" y2="395.28" stroke="#111" stroke-width="1.3"/>
<text x="341.80" y="399.31" font-size="11.2" text-anchor="end" font-weight="normal" fill="#000" letter-spacing="0.3">20</text>
<line x1="344.40" y1="363.35" x2="351.40" y2="363.35" stroke="#111" stroke-width="1.3"/>
<text x="341.80" y="367.38" font-size="11.2" text-anchor="end" font-weight="normal" fill="#000" letter-spacing="0.3">25</text>
<line x1="344.40" y1="331.42" x2="351.40" y2="331.42" stroke="#111" stroke-width="1.3"/>
<text x="341.80" y="335.45" font-size="11.2" text-anchor="end" font-weight="normal" fill="#000" letter-spacing="0.3">30</text>
<line x1="344.40" y1="299.49" x2="351.40" y2="299.49" stroke="#111" stroke-width="1.3"/>
<text x="341.80" y="303.52" font-size="11.2" text-anchor="end" font-weight="normal" fill="#000" letter-spacing="0.3">35</text>
<line x1="344.40" y1="523.00" x2="606.00" y2="523.00" stroke="#111" stroke-width="1.3"/>
<line x1="359.30" y1="523.00" x2="359.30" y2="527.50" stroke="#111" stroke-width="1.3"/>
<text x="359.45" y="541.50" font-size="11.2" text-anchor="middle" font-weight="normal" fill="#000" letter-spacing="0.3">0</text>
<line x1="397.12" y1="523.00" x2="397.12" y2="527.50" stroke="#111" stroke-width="1.3"/>
<text x="397.27" y="541.50" font-size="11.2" text-anchor="middle" font-weight="normal" fill="#000" letter-spacing="0.3">20</text>
<line x1="434.93" y1="523.00" x2="434.93" y2="527.50" stroke="#111" stroke-width="1.3"/>
<text x="435.08" y="541.50" font-size="11.2" text-anchor="middle" font-weight="normal" fill="#000" letter-spacing="0.3">40</text>
<line x1="472.75" y1="523.00" x2="472.75" y2="527.50" stroke="#111" stroke-width="1.3"/>
<text x="472.90" y="541.50" font-size="11.2" text-anchor="middle" font-weight="normal" fill="#000" letter-spacing="0.3">60</text>
<line x1="510.56" y1="523.00" x2="510.56" y2="527.50" stroke="#111" stroke-width="1.3"/>
<text x="510.71" y="541.50" font-size="11.2" text-anchor="middle" font-weight="normal" fill="#000" letter-spacing="0.3">80</text>
<line x1="548.38" y1="523.00" x2="548.38" y2="527.50" stroke="#111" stroke-width="1.3"/>
<text x="548.53" y="541.50" font-size="11.2" text-anchor="middle" font-weight="normal" fill="#000" letter-spacing="0.3">100</text>
<line x1="586.20" y1="523.00" x2="586.20" y2="527.50" stroke="#111" stroke-width="1.3"/>
<text x="586.35" y="541.50" font-size="11.2" text-anchor="middle" font-weight="normal" fill="#000" letter-spacing="0.3">120</text>
<text x="475.50" y="560.10" font-size="13.4" text-anchor="middle" font-weight="normal" fill="#000">Time (min)</text>
<text x="316.80" y="408.00" font-size="13.4" text-anchor="middle" font-weight="normal" fill="#000" transform="rotate(-90 316.80 408.00)">Glucose (mmol/l)</text>
<line x1="359.30" y1="447.90" x2="359.30" y2="465.97" stroke="#000" stroke-width="1.6"/>
<line x1="353.80" y1="447.90" x2="364.80" y2="447.90" stroke="#000" stroke-width="1.6"/>
<line x1="353.80" y1="465.97" x2="364.80" y2="465.97" stroke="#000" stroke-width="1.6"/>
<line x1="378.21" y1="335.25" x2="378.21" y2="376.12" stroke="#000" stroke-width="1.6"/>
<line x1="372.71" y1="335.25" x2="383.71" y2="335.25" stroke="#000" stroke-width="1.6"/>
<line x1="372.71" y1="376.12" x2="383.71" y2="376.12" stroke="#000" stroke-width="1.6"/>
<line x1="416.02" y1="326.95" x2="416.02" y2="360.16" stroke="#000" stroke-width="1.6"/>
<line x1="410.52" y1="326.95" x2="421.52" y2="326.95" stroke="#000" stroke-width="1.6"/>
<line x1="410.52" y1="360.16" x2="421.52" y2="360.16" stroke="#000" stroke-width="1.6"/>
<line x1="472.75" y1="316.73" x2="472.75" y2="348.66" stroke="#000" stroke-width="1.6"/>
<line x1="467.25" y1="316.73" x2="478.25" y2="316.73" stroke="#000" stroke-width="1.6"/>
<line x1="467.25" y1="348.66" x2="478.25" y2="348.66" stroke="#000" stroke-width="1.6"/>
<line x1="586.20" y1="318.01" x2="586.20" y2="344.19" stroke="#000" stroke-width="1.6"/>
<line x1="580.70" y1="318.01" x2="591.70" y2="318.01" stroke="#000" stroke-width="1.6"/>
<line x1="580.70" y1="344.19" x2="591.70" y2="344.19" stroke="#000" stroke-width="1.6"/>
<line x1="359.30" y1="463.29" x2="359.30" y2="471.53" stroke="#000" stroke-width="1.6"/>
<line x1="353.80" y1="463.29" x2="364.80" y2="463.29" stroke="#000" stroke-width="1.6"/>
<line x1="353.80" y1="471.53" x2="364.80" y2="471.53" stroke="#000" stroke-width="1.6"/>
<line x1="378.21" y1="357.60" x2="378.21" y2="372.93" stroke="#000" stroke-width="1.6"/>
<line x1="372.71" y1="357.60" x2="383.71" y2="357.60" stroke="#000" stroke-width="1.6"/>
<line x1="372.71" y1="372.93" x2="383.71" y2="372.93" stroke="#000" stroke-width="1.6"/>
<line x1="416.02" y1="353.77" x2="416.02" y2="392.09" stroke="#000" stroke-width="1.6"/>
<line x1="410.52" y1="353.77" x2="421.52" y2="353.77" stroke="#000" stroke-width="1.6"/>
<line x1="410.52" y1="392.09" x2="421.52" y2="392.09" stroke="#000" stroke-width="1.6"/>
<line x1="472.75" y1="342.91" x2="472.75" y2="418.27" stroke="#000" stroke-width="1.6"/>
<line x1="467.25" y1="342.91" x2="478.25" y2="342.91" stroke="#000" stroke-width="1.6"/>
<line x1="467.25" y1="418.27" x2="478.25" y2="418.27" stroke="#000" stroke-width="1.6"/>
<line x1="586.20" y1="343.55" x2="586.20" y2="388.26" stroke="#000" stroke-width="1.6"/>
<line x1="580.70" y1="343.55" x2="591.70" y2="343.55" stroke="#000" stroke-width="1.6"/>
<line x1="580.70" y1="388.26" x2="591.70" y2="388.26" stroke="#000" stroke-width="1.6"/>
<line x1="359.30" y1="463.29" x2="359.30" y2="476.38" stroke="#000" stroke-width="1.6"/>
<line x1="353.80" y1="463.29" x2="364.80" y2="463.29" stroke="#000" stroke-width="1.6"/>
<line x1="353.80" y1="476.38" x2="364.80" y2="476.38" stroke="#000" stroke-width="1.6"/>
<line x1="378.21" y1="360.16" x2="378.21" y2="376.12" stroke="#000" stroke-width="1.6"/>
<line x1="372.71" y1="360.16" x2="383.71" y2="360.16" stroke="#000" stroke-width="1.6"/>
<line x1="372.71" y1="376.12" x2="383.71" y2="376.12" stroke="#000" stroke-width="1.6"/>
<line x1="416.02" y1="377.40" x2="416.02" y2="396.56" stroke="#000" stroke-width="1.6"/>
<line x1="410.52" y1="377.40" x2="421.52" y2="377.40" stroke="#000" stroke-width="1.6"/>
<line x1="410.52" y1="396.56" x2="421.52" y2="396.56" stroke="#000" stroke-width="1.6"/>
<line x1="472.75" y1="391.45" x2="472.75" y2="416.99" stroke="#000" stroke-width="1.6"/>
<line x1="467.25" y1="391.45" x2="478.25" y2="391.45" stroke="#000" stroke-width="1.6"/>
<line x1="467.25" y1="416.99" x2="478.25" y2="416.99" stroke="#000" stroke-width="1.6"/>
<line x1="586.20" y1="407.41" x2="586.20" y2="434.23" stroke="#000" stroke-width="1.6"/>
<line x1="580.70" y1="407.41" x2="591.70" y2="407.41" stroke="#000" stroke-width="1.6"/>
<line x1="580.70" y1="434.23" x2="591.70" y2="434.23" stroke="#000" stroke-width="1.6"/>
<line x1="359.30" y1="471.53" x2="359.30" y2="481.87" stroke="#000" stroke-width="1.6"/>
<line x1="353.80" y1="471.53" x2="364.80" y2="471.53" stroke="#000" stroke-width="1.6"/>
<line x1="353.80" y1="481.87" x2="364.80" y2="481.87" stroke="#000" stroke-width="1.6"/>
<line x1="378.21" y1="376.12" x2="378.21" y2="391.45" stroke="#000" stroke-width="1.6"/>
<line x1="372.71" y1="376.12" x2="383.71" y2="376.12" stroke="#000" stroke-width="1.6"/>
<line x1="372.71" y1="391.45" x2="383.71" y2="391.45" stroke="#000" stroke-width="1.6"/>
<line x1="416.02" y1="385.06" x2="416.02" y2="398.47" stroke="#000" stroke-width="1.6"/>
<line x1="410.52" y1="385.06" x2="421.52" y2="385.06" stroke="#000" stroke-width="1.6"/>
<line x1="410.52" y1="398.47" x2="421.52" y2="398.47" stroke="#000" stroke-width="1.6"/>
<line x1="472.75" y1="397.83" x2="472.75" y2="415.08" stroke="#000" stroke-width="1.6"/>
<line x1="467.25" y1="397.83" x2="478.25" y2="397.83" stroke="#000" stroke-width="1.6"/>
<line x1="467.25" y1="415.08" x2="478.25" y2="415.08" stroke="#000" stroke-width="1.6"/>
<line x1="586.20" y1="411.25" x2="586.20" y2="430.40" stroke="#000" stroke-width="1.6"/>
<line x1="580.70" y1="411.25" x2="591.70" y2="411.25" stroke="#000" stroke-width="1.6"/>
<line x1="580.70" y1="430.40" x2="591.70" y2="430.40" stroke="#000" stroke-width="1.6"/>
<polyline points="359.30,457.22 378.21,355.69 416.02,344.51 472.75,333.34 586.20,330.78" fill="none" stroke="#000" stroke-width="1.6" stroke-linejoin="round"/>
<polyline points="359.30,477.66 378.21,383.79 416.02,391.45 472.75,406.77 586.20,420.82" fill="none" stroke="#000" stroke-width="1.6" stroke-linejoin="round"/>
<polyline points="359.30,467.44 378.21,365.27 416.02,374.84 472.75,368.46 586.20,360.16" fill="none" stroke="#000" stroke-width="1.6" stroke-linejoin="round"/>
<polyline points="359.30,470.63 378.21,366.54 416.02,386.34 472.75,404.22 586.20,420.82" fill="none" stroke="#000" stroke-width="1.6" stroke-linejoin="round"/>
<circle cx="359.30" cy="457.22" r="3.00" fill="#fff" stroke="#000" stroke-width="1.2"/>
<circle cx="378.21" cy="355.69" r="3.00" fill="#fff" stroke="#000" stroke-width="1.2"/>
<circle cx="416.02" cy="344.51" r="3.00" fill="#fff" stroke="#000" stroke-width="1.2"/>
<circle cx="472.75" cy="333.34" r="3.00" fill="#fff" stroke="#000" stroke-width="1.2"/>
<circle cx="586.20" cy="330.78" r="3.00" fill="#fff" stroke="#000" stroke-width="1.2"/>
<polygon points="356.15,475.48 362.45,475.48 359.30,479.83" fill="#fff" stroke="#000" stroke-width="1.2" stroke-linejoin="miter"/>
<polygon points="375.06,381.61 381.36,381.61 378.21,385.96" fill="#fff" stroke="#000" stroke-width="1.2" stroke-linejoin="miter"/>
<polygon points="412.87,389.27 419.17,389.27 416.02,393.62" fill="#fff" stroke="#000" stroke-width="1.2" stroke-linejoin="miter"/>
<polygon points="469.60,404.60 475.90,404.60 472.75,408.95" fill="#fff" stroke="#000" stroke-width="1.2" stroke-linejoin="miter"/>
<polygon points="583.05,418.65 589.35,418.65 586.20,423.00" fill="#fff" stroke="#000" stroke-width="1.2" stroke-linejoin="miter"/>
<circle cx="359.30" cy="467.44" r="3.00" fill="#000" stroke="#000" stroke-width="1.2"/>
<circle cx="378.21" cy="365.27" r="3.00" fill="#000" stroke="#000" stroke-width="1.2"/>
<circle cx="416.02" cy="374.84" r="3.00" fill="#000" stroke="#000" stroke-width="1.2"/>
<circle cx="472.75" cy="368.46" r="3.00" fill="#000" stroke="#000" stroke-width="1.2"/>
<circle cx="586.20" cy="360.16" r="3.00" fill="#000" stroke="#000" stroke-width="1.2"/>
<polygon points="356.15,472.81 362.45,472.81 359.30,468.46" fill="#000" stroke="#000" stroke-width="1.2" stroke-linejoin="miter"/>
<polygon points="375.06,368.72 381.36,368.72 378.21,364.37" fill="#000" stroke="#000" stroke-width="1.2" stroke-linejoin="miter"/>
<polygon points="412.87,388.51 419.17,388.51 416.02,384.16" fill="#000" stroke="#000" stroke-width="1.2" stroke-linejoin="miter"/>
<polygon points="469.60,406.40 475.90,406.40 472.75,402.05" fill="#000" stroke="#000" stroke-width="1.2" stroke-linejoin="miter"/>
<polygon points="583.05,423.00 589.35,423.00 586.20,418.65" fill="#000" stroke="#000" stroke-width="1.2" stroke-linejoin="miter"/>
<text x="425.50" y="441.90" font-size="21" text-anchor="start" font-weight="bold" fill="#000">h</text>
<line x1="480.30" y1="445.20" x2="480.30" y2="508.20" stroke="#444" stroke-width="1.2"/>
<line x1="477.80" y1="508.20" x2="480.30" y2="508.20" stroke="#444" stroke-width="1.2"/>
<text x="476.60" y="511.08" font-size="8.0" text-anchor="end" font-weight="normal" fill="#222" letter-spacing="0.3">0</text>
<line x1="477.80" y1="492.42" x2="480.30" y2="492.42" stroke="#444" stroke-width="1.2"/>
<text x="476.60" y="495.30" font-size="8.0" text-anchor="end" font-weight="normal" fill="#222" letter-spacing="0.3">1,000</text>
<line x1="477.80" y1="476.64" x2="480.30" y2="476.64" stroke="#444" stroke-width="1.2"/>
<text x="476.60" y="479.52" font-size="8.0" text-anchor="end" font-weight="normal" fill="#222" letter-spacing="0.3">2,000</text>
<line x1="477.80" y1="460.86" x2="480.30" y2="460.86" stroke="#444" stroke-width="1.2"/>
<text x="476.60" y="463.74" font-size="8.0" text-anchor="end" font-weight="normal" fill="#222" letter-spacing="0.3">3,000</text>
<line x1="477.80" y1="445.08" x2="480.30" y2="445.08" stroke="#444" stroke-width="1.2"/>
<text x="476.60" y="447.96" font-size="8.0" text-anchor="end" font-weight="normal" fill="#222" letter-spacing="0.3">4,000</text>
<line x1="480.30" y1="508.20" x2="576.40" y2="508.20" stroke="#000" stroke-width="1.2"/>
<text x="449.40" y="519.60" font-size="7.8" fill="#000" transform="rotate(-90 449.40 519.60)">AUC<tspan font-size="6.24" dy="2.34">glucose</tspan><tspan dy="-2.34"> (mmol/l × min)</tspan></text>
<line x1="503.30" y1="454.50" x2="503.30" y2="450.30" stroke="#444" stroke-width="1.2"/>
<line x1="500.80" y1="450.30" x2="505.80" y2="450.30" stroke="#444" stroke-width="1.2"/>
<rect x="496.30" y="454.50" width="14.00" height="53.70" fill="#fff" stroke="none"/>
<rect x="497.25" y="455.45" width="12.10" height="51.80" fill="none" stroke="#000" stroke-width="1.9"/>
<line x1="520.15" y1="462.60" x2="520.15" y2="457.00" stroke="#444" stroke-width="1.2"/>
<line x1="517.65" y1="457.00" x2="522.65" y2="457.00" stroke="#444" stroke-width="1.2"/>
<rect x="513.40" y="462.60" width="13.50" height="45.60" fill="#666" stroke="none"/>
<rect x="514.35" y="463.55" width="11.60" height="43.70" fill="none" stroke="#000" stroke-width="1.9"/>
<line x1="536.70" y1="473.30" x2="536.70" y2="471.60" stroke="#444" stroke-width="1.2"/>
<line x1="534.20" y1="471.60" x2="539.20" y2="471.60" stroke="#444" stroke-width="1.2"/>
<rect x="530.00" y="473.30" width="13.40" height="34.90" fill="#fff" stroke="none"/>
<g clip-path="url(#hh2)">
<clipPath id="hh2"><rect x="530.00" y="473.30" width="13.40" height="34.90"/></clipPath>
<line x1="530.00" y1="521.60" x2="543.40" y2="508.20" stroke="#000" stroke-width="2.2"/>
<line x1="530.00" y1="508.30" x2="543.40" y2="494.90" stroke="#000" stroke-width="2.2"/>
<line x1="530.00" y1="495.00" x2="543.40" y2="481.60" stroke="#000" stroke-width="2.2"/>
<line x1="530.00" y1="481.70" x2="543.40" y2="468.30" stroke="#000" stroke-width="2.2"/>
</g>
<rect x="530.95" y="474.25" width="11.50" height="33.00" fill="none" stroke="#000" stroke-width="1.9"/>
<line x1="553.25" y1="472.20" x2="553.25" y2="469.40" stroke="#444" stroke-width="1.2"/>
<line x1="550.75" y1="469.40" x2="555.75" y2="469.40" stroke="#444" stroke-width="1.2"/>
<rect x="546.20" y="472.20" width="14.10" height="36.00" fill="#666" stroke="none"/>
<g clip-path="url(#hh3)">
<clipPath id="hh3"><rect x="546.20" y="472.20" width="14.10" height="36.00"/></clipPath>
<line x1="546.20" y1="522.30" x2="560.30" y2="508.20" stroke="#000" stroke-width="2.2"/>
<line x1="546.20" y1="509.00" x2="560.30" y2="494.90" stroke="#000" stroke-width="2.2"/>
<line x1="546.20" y1="495.70" x2="560.30" y2="481.60" stroke="#000" stroke-width="2.2"/>
<line x1="546.20" y1="482.40" x2="560.30" y2="468.30" stroke="#000" stroke-width="2.2"/>
</g>
<rect x="547.15" y="473.15" width="12.20" height="34.10" fill="none" stroke="#000" stroke-width="1.9"/>
<polyline points="498,447.2 498,443 540,443 540,447.2" fill="none" stroke="#222" stroke-width="1.2"/>
<path d="M519.00,436.30L519.00,432.50M519.00,436.30L522.61,435.13M519.00,436.30L521.23,439.37M519.00,436.30L516.77,439.37M519.00,436.30L515.39,435.13" stroke="#000" stroke-width="1.9" stroke-linecap="butt" fill="none"/>
<text x="0.80" y="594.00" font-size="21" text-anchor="start" font-weight="bold" fill="#000">i</text>
<line x1="42.90" y1="603.70" x2="42.90" y2="778.00" stroke="#000" stroke-width="1.6"/>
<line x1="35.90" y1="778.00" x2="42.90" y2="778.00" stroke="#000" stroke-width="1.6"/>
<text x="34.40" y="782.03" font-size="11.2" text-anchor="end" font-weight="normal" fill="#000" letter-spacing="0.3">0.7</text>
<line x1="35.90" y1="743.14" x2="42.90" y2="743.14" stroke="#000" stroke-width="1.6"/>
<text x="34.40" y="747.17" font-size="11.2" text-anchor="end" font-weight="normal" fill="#000" letter-spacing="0.3">0.8</text>
<line x1="35.90" y1="708.28" x2="42.90" y2="708.28" stroke="#000" stroke-width="1.6"/>
<text x="34.40" y="712.31" font-size="11.2" text-anchor="end" font-weight="normal" fill="#000" letter-spacing="0.3">0.9</text>
<line x1="35.90" y1="673.42" x2="42.90" y2="673.42" stroke="#000" stroke-width="1.6"/>
<text x="34.40" y="677.45" font-size="11.2" text-anchor="end" font-weight="normal" fill="#000" letter-spacing="0.3">1.0</text>
<line x1="35.90" y1="638.56" x2="42.90" y2="638.56" stroke="#000" stroke-width="1.6"/>
<text x="34.40" y="642.59" font-size="11.2" text-anchor="end" font-weight="normal" fill="#000" letter-spacing="0.3">1.1</text>
<line x1="35.90" y1="603.70" x2="42.90" y2="603.70" stroke="#000" stroke-width="1.6"/>
<text x="34.40" y="607.73" font-size="11.2" text-anchor="end" font-weight="normal" fill="#000" letter-spacing="0.3">1.2</text>
<line x1="36.00" y1="778.00" x2="289.40" y2="778.00" stroke="#000" stroke-width="1.6"/>
<line x1="53.20" y1="778.00" x2="53.20" y2="782.00" stroke="#000" stroke-width="1.6"/>
<line x1="63.45" y1="778.00" x2="63.45" y2="782.00" stroke="#000" stroke-width="1.6"/>
<line x1="73.70" y1="778.00" x2="73.70" y2="782.00" stroke="#000" stroke-width="1.6"/>
<line x1="83.95" y1="778.00" x2="83.95" y2="782.00" stroke="#000" stroke-width="1.6"/>
<line x1="94.20" y1="778.00" x2="94.20" y2="782.00" stroke="#000" stroke-width="1.6"/>
<line x1="104.45" y1="778.00" x2="104.45" y2="782.00" stroke="#000" stroke-width="1.6"/>
<line x1="114.70" y1="778.00" x2="114.70" y2="782.00" stroke="#000" stroke-width="1.6"/>
<line x1="124.95" y1="778.00" x2="124.95" y2="782.00" stroke="#000" stroke-width="1.6"/>
<line x1="135.20" y1="778.00" x2="135.20" y2="782.00" stroke="#000" stroke-width="1.6"/>
<line x1="145.45" y1="778.00" x2="145.45" y2="782.00" stroke="#000" stroke-width="1.6"/>
<line x1="155.70" y1="778.00" x2="155.70" y2="782.00" stroke="#000" stroke-width="1.6"/>
<line x1="165.95" y1="778.00" x2="165.95" y2="782.00" stroke="#000" stroke-width="1.6"/>
<line x1="176.20" y1="778.00" x2="176.20" y2="782.00" stroke="#000" stroke-width="1.6"/>
<line x1="186.45" y1="778.00" x2="186.45" y2="782.00" stroke="#000" stroke-width="1.6"/>
<line x1="196.70" y1="778.00" x2="196.70" y2="782.00" stroke="#000" stroke-width="1.6"/>
<line x1="206.95" y1="778.00" x2="206.95" y2="782.00" stroke="#000" stroke-width="1.6"/>
<line x1="217.20" y1="778.00" x2="217.20" y2="782.00" stroke="#000" stroke-width="1.6"/>
<line x1="227.45" y1="778.00" x2="227.45" y2="782.00" stroke="#000" stroke-width="1.6"/>
<line x1="237.70" y1="778.00" x2="237.70" y2="782.00" stroke="#000" stroke-width="1.6"/>
<line x1="247.95" y1="778.00" x2="247.95" y2="782.00" stroke="#000" stroke-width="1.6"/>
<line x1="258.20" y1="778.00" x2="258.20" y2="782.00" stroke="#000" stroke-width="1.6"/>
<line x1="268.45" y1="778.00" x2="268.45" y2="782.00" stroke="#000" stroke-width="1.6"/>
<line x1="278.70" y1="778.00" x2="278.70" y2="782.00" stroke="#000" stroke-width="1.6"/>
<text x="63.60" y="797.50" font-size="11.2" text-anchor="middle" font-weight="normal" fill="#000" letter-spacing="0.3">10:00</text>
<text x="104.60" y="797.50" font-size="11.2" text-anchor="middle" font-weight="normal" fill="#000" letter-spacing="0.3">14:00</text>
<text x="145.60" y="797.50" font-size="11.2" text-anchor="middle" font-weight="normal" fill="#000" letter-spacing="0.3">18:00</text>
<text x="186.60" y="797.50" font-size="11.2" text-anchor="middle" font-weight="normal" fill="#000" letter-spacing="0.3">22:00</text>
<text x="227.60" y="797.50" font-size="11.2" text-anchor="middle" font-weight="normal" fill="#000" letter-spacing="0.3">02:00</text>
<text x="268.60" y="797.50" font-size="11.2" text-anchor="middle" font-weight="normal" fill="#000" letter-spacing="0.3">06:00</text>
<text x="167.20" y="818.60" font-size="13.5" text-anchor="middle" font-weight="normal" fill="#000">Time of day (hours)</text>
<text x="10.10" y="688.30" font-size="13.4" text-anchor="middle" font-weight="normal" fill="#000" transform="rotate(-90 10.10 688.30)">RQ</text>
<line x1="53.20" y1="712.10" x2="53.20" y2="728.10" stroke="#808080" stroke-width="1.5"/>
<line x1="48.90" y1="712.10" x2="57.50" y2="712.10" stroke="#808080" stroke-width="1.5"/>
<line x1="48.90" y1="728.10" x2="57.50" y2="728.10" stroke="#808080" stroke-width="1.5"/>
<line x1="63.45" y1="721.00" x2="63.45" y2="733.00" stroke="#808080" stroke-width="1.5"/>
<line x1="59.15" y1="721.00" x2="67.75" y2="721.00" stroke="#808080" stroke-width="1.5"/>
<line x1="59.15" y1="733.00" x2="67.75" y2="733.00" stroke="#808080" stroke-width="1.5"/>
<line x1="73.70" y1="718.00" x2="73.70" y2="730.00" stroke="#808080" stroke-width="1.5"/>
<line x1="69.40" y1="718.00" x2="78.00" y2="718.00" stroke="#808080" stroke-width="1.5"/>
<line x1="69.40" y1="730.00" x2="78.00" y2="730.00" stroke="#808080" stroke-width="1.5"/>
<line x1="83.95" y1="718.20" x2="83.95" y2="730.20" stroke="#808080" stroke-width="1.5"/>
<line x1="79.65" y1="718.20" x2="88.25" y2="718.20" stroke="#808080" stroke-width="1.5"/>
<line x1="79.65" y1="730.20" x2="88.25" y2="730.20" stroke="#808080" stroke-width="1.5"/>
<line x1="94.20" y1="723.00" x2="94.20" y2="735.00" stroke="#808080" stroke-width="1.5"/>
<line x1="89.90" y1="723.00" x2="98.50" y2="723.00" stroke="#808080" stroke-width="1.5"/>
<line x1="89.90" y1="735.00" x2="98.50" y2="735.00" stroke="#808080" stroke-width="1.5"/>
<line x1="104.45" y1="723.80" x2="104.45" y2="735.80" stroke="#808080" stroke-width="1.5"/>
<line x1="100.15" y1="723.80" x2="108.75" y2="723.80" stroke="#808080" stroke-width="1.5"/>
<line x1="100.15" y1="735.80" x2="108.75" y2="735.80" stroke="#808080" stroke-width="1.5"/>
<line x1="114.70" y1="736.00" x2="114.70" y2="748.00" stroke="#808080" stroke-width="1.5"/>
<line x1="110.40" y1="736.00" x2="119.00" y2="736.00" stroke="#808080" stroke-width="1.5"/>
<line x1="110.40" y1="748.00" x2="119.00" y2="748.00" stroke="#808080" stroke-width="1.5"/>
<line x1="124.95" y1="740.20" x2="124.95" y2="750.20" stroke="#808080" stroke-width="1.5"/>
<line x1="120.65" y1="740.20" x2="129.25" y2="740.20" stroke="#808080" stroke-width="1.5"/>
<line x1="120.65" y1="750.20" x2="129.25" y2="750.20" stroke="#808080" stroke-width="1.5"/>
<line x1="135.20" y1="728.20" x2="135.20" y2="743.40" stroke="#808080" stroke-width="1.5"/>
<line x1="130.90" y1="728.20" x2="139.50" y2="728.20" stroke="#808080" stroke-width="1.5"/>
<line x1="130.90" y1="743.40" x2="139.50" y2="743.40" stroke="#808080" stroke-width="1.5"/>
<line x1="145.45" y1="718.30" x2="145.45" y2="730.30" stroke="#808080" stroke-width="1.5"/>
<line x1="141.15" y1="718.30" x2="149.75" y2="718.30" stroke="#808080" stroke-width="1.5"/>
<line x1="141.15" y1="730.30" x2="149.75" y2="730.30" stroke="#808080" stroke-width="1.5"/>
<line x1="155.70" y1="687.10" x2="155.70" y2="697.10" stroke="#808080" stroke-width="1.5"/>
<line x1="151.40" y1="687.10" x2="160.00" y2="687.10" stroke="#808080" stroke-width="1.5"/>
<line x1="151.40" y1="697.10" x2="160.00" y2="697.10" stroke="#808080" stroke-width="1.5"/>
<line x1="165.95" y1="665.10" x2="165.95" y2="672.10" stroke="#808080" stroke-width="1.5"/>
<line x1="161.65" y1="665.10" x2="170.25" y2="665.10" stroke="#808080" stroke-width="1.5"/>
<line x1="161.65" y1="672.10" x2="170.25" y2="672.10" stroke="#808080" stroke-width="1.5"/>
<line x1="176.20" y1="661.60" x2="176.20" y2="673.20" stroke="#808080" stroke-width="1.5"/>
<line x1="171.90" y1="661.60" x2="180.50" y2="661.60" stroke="#808080" stroke-width="1.5"/>
<line x1="171.90" y1="673.20" x2="180.50" y2="673.20" stroke="#808080" stroke-width="1.5"/>
<line x1="186.45" y1="665.40" x2="186.45" y2="677.40" stroke="#808080" stroke-width="1.5"/>
<line x1="182.15" y1="665.40" x2="190.75" y2="665.40" stroke="#808080" stroke-width="1.5"/>
<line x1="182.15" y1="677.40" x2="190.75" y2="677.40" stroke="#808080" stroke-width="1.5"/>
<line x1="196.70" y1="664.20" x2="196.70" y2="675.60" stroke="#808080" stroke-width="1.5"/>
<line x1="192.40" y1="664.20" x2="201.00" y2="664.20" stroke="#808080" stroke-width="1.5"/>
<line x1="192.40" y1="675.60" x2="201.00" y2="675.60" stroke="#808080" stroke-width="1.5"/>
<line x1="206.95" y1="672.00" x2="206.95" y2="683.60" stroke="#808080" stroke-width="1.5"/>
<line x1="202.65" y1="672.00" x2="211.25" y2="672.00" stroke="#808080" stroke-width="1.5"/>
<line x1="202.65" y1="683.60" x2="211.25" y2="683.60" stroke="#808080" stroke-width="1.5"/>
<line x1="217.20" y1="671.60" x2="217.20" y2="687.20" stroke="#808080" stroke-width="1.5"/>
<line x1="212.90" y1="671.60" x2="221.50" y2="671.60" stroke="#808080" stroke-width="1.5"/>
<line x1="212.90" y1="687.20" x2="221.50" y2="687.20" stroke="#808080" stroke-width="1.5"/>
<line x1="227.45" y1="682.00" x2="227.45" y2="701.40" stroke="#808080" stroke-width="1.5"/>
<line x1="223.15" y1="682.00" x2="231.75" y2="682.00" stroke="#808080" stroke-width="1.5"/>
<line x1="223.15" y1="701.40" x2="231.75" y2="701.40" stroke="#808080" stroke-width="1.5"/>
<line x1="237.70" y1="677.60" x2="237.70" y2="699.20" stroke="#808080" stroke-width="1.5"/>
<line x1="233.40" y1="677.60" x2="242.00" y2="677.60" stroke="#808080" stroke-width="1.5"/>
<line x1="233.40" y1="699.20" x2="242.00" y2="699.20" stroke="#808080" stroke-width="1.5"/>
<line x1="247.95" y1="681.40" x2="247.95" y2="702.00" stroke="#808080" stroke-width="1.5"/>
<line x1="243.65" y1="681.40" x2="252.25" y2="681.40" stroke="#808080" stroke-width="1.5"/>
<line x1="243.65" y1="702.00" x2="252.25" y2="702.00" stroke="#808080" stroke-width="1.5"/>
<line x1="258.20" y1="665.70" x2="258.20" y2="681.30" stroke="#808080" stroke-width="1.5"/>
<line x1="253.90" y1="665.70" x2="262.50" y2="665.70" stroke="#808080" stroke-width="1.5"/>
<line x1="253.90" y1="681.30" x2="262.50" y2="681.30" stroke="#808080" stroke-width="1.5"/>
<line x1="268.45" y1="679.70" x2="268.45" y2="694.70" stroke="#808080" stroke-width="1.5"/>
<line x1="264.15" y1="679.70" x2="272.75" y2="679.70" stroke="#808080" stroke-width="1.5"/>
<line x1="264.15" y1="694.70" x2="272.75" y2="694.70" stroke="#808080" stroke-width="1.5"/>
<line x1="278.70" y1="688.10" x2="278.70" y2="703.50" stroke="#808080" stroke-width="1.5"/>
<line x1="274.40" y1="688.10" x2="283.00" y2="688.10" stroke="#808080" stroke-width="1.5"/>
<line x1="274.40" y1="703.50" x2="283.00" y2="703.50" stroke="#808080" stroke-width="1.5"/>
<line x1="53.20" y1="705.20" x2="53.20" y2="721.20" stroke="#383838" stroke-width="1.5"/>
<line x1="48.90" y1="705.20" x2="57.50" y2="705.20" stroke="#383838" stroke-width="1.5"/>
<line x1="48.90" y1="721.20" x2="57.50" y2="721.20" stroke="#383838" stroke-width="1.5"/>
<line x1="63.45" y1="723.10" x2="63.45" y2="733.10" stroke="#383838" stroke-width="1.5"/>
<line x1="59.15" y1="723.10" x2="67.75" y2="723.10" stroke="#383838" stroke-width="1.5"/>
<line x1="59.15" y1="733.10" x2="67.75" y2="733.10" stroke="#383838" stroke-width="1.5"/>
<line x1="73.70" y1="724.00" x2="73.70" y2="734.00" stroke="#383838" stroke-width="1.5"/>
<line x1="69.40" y1="724.00" x2="78.00" y2="724.00" stroke="#383838" stroke-width="1.5"/>
<line x1="69.40" y1="734.00" x2="78.00" y2="734.00" stroke="#383838" stroke-width="1.5"/>
<line x1="83.95" y1="729.50" x2="83.95" y2="739.50" stroke="#383838" stroke-width="1.5"/>
<line x1="79.65" y1="729.50" x2="88.25" y2="729.50" stroke="#383838" stroke-width="1.5"/>
<line x1="79.65" y1="739.50" x2="88.25" y2="739.50" stroke="#383838" stroke-width="1.5"/>
<line x1="94.20" y1="729.60" x2="94.20" y2="739.60" stroke="#383838" stroke-width="1.5"/>
<line x1="89.90" y1="729.60" x2="98.50" y2="729.60" stroke="#383838" stroke-width="1.5"/>
<line x1="89.90" y1="739.60" x2="98.50" y2="739.60" stroke="#383838" stroke-width="1.5"/>
<line x1="104.45" y1="731.20" x2="104.45" y2="741.20" stroke="#383838" stroke-width="1.5"/>
<line x1="100.15" y1="731.20" x2="108.75" y2="731.20" stroke="#383838" stroke-width="1.5"/>
<line x1="100.15" y1="741.20" x2="108.75" y2="741.20" stroke="#383838" stroke-width="1.5"/>
<line x1="114.70" y1="725.50" x2="114.70" y2="735.50" stroke="#383838" stroke-width="1.5"/>
<line x1="110.40" y1="725.50" x2="119.00" y2="725.50" stroke="#383838" stroke-width="1.5"/>
<line x1="110.40" y1="735.50" x2="119.00" y2="735.50" stroke="#383838" stroke-width="1.5"/>
<line x1="124.95" y1="712.10" x2="124.95" y2="722.70" stroke="#383838" stroke-width="1.5"/>
<line x1="120.65" y1="712.10" x2="129.25" y2="712.10" stroke="#383838" stroke-width="1.5"/>
<line x1="120.65" y1="722.70" x2="129.25" y2="722.70" stroke="#383838" stroke-width="1.5"/>
<line x1="135.20" y1="697.80" x2="135.20" y2="708.60" stroke="#383838" stroke-width="1.5"/>
<line x1="130.90" y1="697.80" x2="139.50" y2="697.80" stroke="#383838" stroke-width="1.5"/>
<line x1="130.90" y1="708.60" x2="139.50" y2="708.60" stroke="#383838" stroke-width="1.5"/>
<line x1="145.45" y1="677.20" x2="145.45" y2="687.20" stroke="#383838" stroke-width="1.5"/>
<line x1="141.15" y1="677.20" x2="149.75" y2="677.20" stroke="#383838" stroke-width="1.5"/>
<line x1="141.15" y1="687.20" x2="149.75" y2="687.20" stroke="#383838" stroke-width="1.5"/>
<line x1="155.70" y1="661.80" x2="155.70" y2="670.80" stroke="#383838" stroke-width="1.5"/>
<line x1="151.40" y1="661.80" x2="160.00" y2="661.80" stroke="#383838" stroke-width="1.5"/>
<line x1="151.40" y1="670.80" x2="160.00" y2="670.80" stroke="#383838" stroke-width="1.5"/>
<line x1="165.95" y1="645.50" x2="165.95" y2="652.50" stroke="#383838" stroke-width="1.5"/>
<line x1="161.65" y1="645.50" x2="170.25" y2="645.50" stroke="#383838" stroke-width="1.5"/>
<line x1="161.65" y1="652.50" x2="170.25" y2="652.50" stroke="#383838" stroke-width="1.5"/>
<line x1="176.20" y1="647.00" x2="176.20" y2="655.00" stroke="#383838" stroke-width="1.5"/>
<line x1="171.90" y1="647.00" x2="180.50" y2="647.00" stroke="#383838" stroke-width="1.5"/>
<line x1="171.90" y1="655.00" x2="180.50" y2="655.00" stroke="#383838" stroke-width="1.5"/>
<line x1="186.45" y1="645.80" x2="186.45" y2="653.80" stroke="#383838" stroke-width="1.5"/>
<line x1="182.15" y1="645.80" x2="190.75" y2="645.80" stroke="#383838" stroke-width="1.5"/>
<line x1="182.15" y1="653.80" x2="190.75" y2="653.80" stroke="#383838" stroke-width="1.5"/>
<line x1="196.70" y1="646.70" x2="196.70" y2="654.70" stroke="#383838" stroke-width="1.5"/>
<line x1="192.40" y1="646.70" x2="201.00" y2="646.70" stroke="#383838" stroke-width="1.5"/>
<line x1="192.40" y1="654.70" x2="201.00" y2="654.70" stroke="#383838" stroke-width="1.5"/>
<line x1="206.95" y1="650.10" x2="206.95" y2="659.70" stroke="#383838" stroke-width="1.5"/>
<line x1="202.65" y1="650.10" x2="211.25" y2="650.10" stroke="#383838" stroke-width="1.5"/>
<line x1="202.65" y1="659.70" x2="211.25" y2="659.70" stroke="#383838" stroke-width="1.5"/>
<line x1="217.20" y1="649.20" x2="217.20" y2="660.20" stroke="#383838" stroke-width="1.5"/>
<line x1="212.90" y1="649.20" x2="221.50" y2="649.20" stroke="#383838" stroke-width="1.5"/>
<line x1="212.90" y1="660.20" x2="221.50" y2="660.20" stroke="#383838" stroke-width="1.5"/>
<line x1="227.45" y1="658.10" x2="227.45" y2="668.10" stroke="#383838" stroke-width="1.5"/>
<line x1="223.15" y1="658.10" x2="231.75" y2="658.10" stroke="#383838" stroke-width="1.5"/>
<line x1="223.15" y1="668.10" x2="231.75" y2="668.10" stroke="#383838" stroke-width="1.5"/>
<line x1="237.70" y1="659.00" x2="237.70" y2="670.00" stroke="#383838" stroke-width="1.5"/>
<line x1="233.40" y1="659.00" x2="242.00" y2="659.00" stroke="#383838" stroke-width="1.5"/>
<line x1="233.40" y1="670.00" x2="242.00" y2="670.00" stroke="#383838" stroke-width="1.5"/>
<line x1="247.95" y1="659.50" x2="247.95" y2="669.50" stroke="#383838" stroke-width="1.5"/>
<line x1="243.65" y1="659.50" x2="252.25" y2="659.50" stroke="#383838" stroke-width="1.5"/>
<line x1="243.65" y1="669.50" x2="252.25" y2="669.50" stroke="#383838" stroke-width="1.5"/>
<line x1="258.20" y1="657.80" x2="258.20" y2="667.80" stroke="#383838" stroke-width="1.5"/>
<line x1="253.90" y1="657.80" x2="262.50" y2="657.80" stroke="#383838" stroke-width="1.5"/>
<line x1="253.90" y1="667.80" x2="262.50" y2="667.80" stroke="#383838" stroke-width="1.5"/>
<line x1="268.45" y1="661.40" x2="268.45" y2="673.40" stroke="#383838" stroke-width="1.5"/>
<line x1="264.15" y1="661.40" x2="272.75" y2="661.40" stroke="#383838" stroke-width="1.5"/>
<line x1="264.15" y1="673.40" x2="272.75" y2="673.40" stroke="#383838" stroke-width="1.5"/>
<line x1="278.70" y1="674.80" x2="278.70" y2="687.80" stroke="#383838" stroke-width="1.5"/>
<line x1="274.40" y1="674.80" x2="283.00" y2="674.80" stroke="#383838" stroke-width="1.5"/>
<line x1="274.40" y1="687.80" x2="283.00" y2="687.80" stroke="#383838" stroke-width="1.5"/>
<polyline points="53.20,720.10 63.45,727.00 73.70,724.00 83.95,724.20 94.20,729.00 104.45,729.80 114.70,742.00 124.95,745.20 135.20,735.80 145.45,724.30 155.70,692.10 165.95,668.60 176.20,667.40 186.45,671.40 196.70,669.90 206.95,677.80 217.20,679.40 227.45,691.70 237.70,688.40 247.95,691.70 258.20,673.50 268.45,687.20 278.70,695.80" fill="none" stroke="#000" stroke-width="1.7" stroke-linejoin="round"/>
<polyline points="53.20,713.20 63.45,728.10 73.70,729.00 83.95,734.50 94.20,734.60 104.45,736.20 114.70,730.50 124.95,717.40 135.20,703.20 145.45,682.20 155.70,666.30 165.95,649.00 176.20,651.00 186.45,649.80 196.70,650.70 206.95,654.90 217.20,654.70 227.45,663.10 237.70,664.50 247.95,664.50 258.20,662.80 268.45,667.40 278.70,681.30" fill="none" stroke="#000" stroke-width="1.7" stroke-linejoin="round"/>
<polygon points="49.30,716.50 57.10,716.50 53.20,723.70" fill="#fff" stroke="#000" stroke-width="1.6" stroke-linejoin="miter"/>
<polygon points="59.55,723.40 67.35,723.40 63.45,730.60" fill="#fff" stroke="#000" stroke-width="1.6" stroke-linejoin="miter"/>
<polygon points="69.80,720.40 77.60,720.40 73.70,727.60" fill="#fff" stroke="#000" stroke-width="1.6" stroke-linejoin="miter"/>
<polygon points="80.05,720.60 87.85,720.60 83.95,727.80" fill="#fff" stroke="#000" stroke-width="1.6" stroke-linejoin="miter"/>
<polygon points="90.30,725.40 98.10,725.40 94.20,732.60" fill="#fff" stroke="#000" stroke-width="1.6" stroke-linejoin="miter"/>
<polygon points="100.55,726.20 108.35,726.20 104.45,733.40" fill="#fff" stroke="#000" stroke-width="1.6" stroke-linejoin="miter"/>
<polygon points="110.80,738.40 118.60,738.40 114.70,745.60" fill="#fff" stroke="#000" stroke-width="1.6" stroke-linejoin="miter"/>
<polygon points="121.05,741.60 128.85,741.60 124.95,748.80" fill="#fff" stroke="#000" stroke-width="1.6" stroke-linejoin="miter"/>
<polygon points="131.30,732.20 139.10,732.20 135.20,739.40" fill="#fff" stroke="#000" stroke-width="1.6" stroke-linejoin="miter"/>
<polygon points="141.55,720.70 149.35,720.70 145.45,727.90" fill="#fff" stroke="#000" stroke-width="1.6" stroke-linejoin="miter"/>
<polygon points="151.80,688.50 159.60,688.50 155.70,695.70" fill="#fff" stroke="#000" stroke-width="1.6" stroke-linejoin="miter"/>
<polygon points="162.05,665.00 169.85,665.00 165.95,672.20" fill="#fff" stroke="#000" stroke-width="1.6" stroke-linejoin="miter"/>
<polygon points="172.30,663.80 180.10,663.80 176.20,671.00" fill="#fff" stroke="#000" stroke-width="1.6" stroke-linejoin="miter"/>
<polygon points="182.55,667.80 190.35,667.80 186.45,675.00" fill="#fff" stroke="#000" stroke-width="1.6" stroke-linejoin="miter"/>
<polygon points="192.80,666.30 200.60,666.30 196.70,673.50" fill="#fff" stroke="#000" stroke-width="1.6" stroke-linejoin="miter"/>
<polygon points="203.05,674.20 210.85,674.20 206.95,681.40" fill="#fff" stroke="#000" stroke-width="1.6" stroke-linejoin="miter"/>
<polygon points="213.30,675.80 221.10,675.80 217.20,683.00" fill="#fff" stroke="#000" stroke-width="1.6" stroke-linejoin="miter"/>
<polygon points="223.55,688.10 231.35,688.10 227.45,695.30" fill="#fff" stroke="#000" stroke-width="1.6" stroke-linejoin="miter"/>
<polygon points="233.80,684.80 241.60,684.80 237.70,692.00" fill="#fff" stroke="#000" stroke-width="1.6" stroke-linejoin="miter"/>
<polygon points="244.05,688.10 251.85,688.10 247.95,695.30" fill="#fff" stroke="#000" stroke-width="1.6" stroke-linejoin="miter"/>
<polygon points="254.30,669.90 262.10,669.90 258.20,677.10" fill="#fff" stroke="#000" stroke-width="1.6" stroke-linejoin="miter"/>
<polygon points="264.55,683.60 272.35,683.60 268.45,690.80" fill="#fff" stroke="#000" stroke-width="1.6" stroke-linejoin="miter"/>
<polygon points="274.80,692.20 282.60,692.20 278.70,699.40" fill="#fff" stroke="#000" stroke-width="1.6" stroke-linejoin="miter"/>
<polygon points="49.30,709.60 57.10,709.60 53.20,716.80" fill="#000" stroke="#000" stroke-width="1.6" stroke-linejoin="miter"/>
<polygon points="59.55,724.50 67.35,724.50 63.45,731.70" fill="#000" stroke="#000" stroke-width="1.6" stroke-linejoin="miter"/>
<polygon points="69.80,725.40 77.60,725.40 73.70,732.60" fill="#000" stroke="#000" stroke-width="1.6" stroke-linejoin="miter"/>
<polygon points="80.05,730.90 87.85,730.90 83.95,738.10" fill="#000" stroke="#000" stroke-width="1.6" stroke-linejoin="miter"/>
<polygon points="90.30,731.00 98.10,731.00 94.20,738.20" fill="#000" stroke="#000" stroke-width="1.6" stroke-linejoin="miter"/>
<polygon points="100.55,732.60 108.35,732.60 104.45,739.80" fill="#000" stroke="#000" stroke-width="1.6" stroke-linejoin="miter"/>
<polygon points="110.80,726.90 118.60,726.90 114.70,734.10" fill="#000" stroke="#000" stroke-width="1.6" stroke-linejoin="miter"/>
<polygon points="121.05,713.80 128.85,713.80 124.95,721.00" fill="#000" stroke="#000" stroke-width="1.6" stroke-linejoin="miter"/>
<polygon points="131.30,699.60 139.10,699.60 135.20,706.80" fill="#000" stroke="#000" stroke-width="1.6" stroke-linejoin="miter"/>
<polygon points="141.55,678.60 149.35,678.60 145.45,685.80" fill="#000" stroke="#000" stroke-width="1.6" stroke-linejoin="miter"/>
<polygon points="151.80,662.70 159.60,662.70 155.70,669.90" fill="#000" stroke="#000" stroke-width="1.6" stroke-linejoin="miter"/>
<polygon points="162.05,645.40 169.85,645.40 165.95,652.60" fill="#000" stroke="#000" stroke-width="1.6" stroke-linejoin="miter"/>
<polygon points="172.30,647.40 180.10,647.40 176.20,654.60" fill="#000" stroke="#000" stroke-width="1.6" stroke-linejoin="miter"/>
<polygon points="182.55,646.20 190.35,646.20 186.45,653.40" fill="#000" stroke="#000" stroke-width="1.6" stroke-linejoin="miter"/>
<polygon points="192.80,647.10 200.60,647.10 196.70,654.30" fill="#000" stroke="#000" stroke-width="1.6" stroke-linejoin="miter"/>
<polygon points="203.05,651.30 210.85,651.30 206.95,658.50" fill="#000" stroke="#000" stroke-width="1.6" stroke-linejoin="miter"/>
<polygon points="213.30,651.10 221.10,651.10 217.20,658.30" fill="#000" stroke="#000" stroke-width="1.6" stroke-linejoin="miter"/>
<polygon points="223.55,659.50 231.35,659.50 227.45,666.70" fill="#000" stroke="#000" stroke-width="1.6" stroke-linejoin="miter"/>
<polygon points="233.80,660.90 241.60,660.90 237.70,668.10" fill="#000" stroke="#000" stroke-width="1.6" stroke-linejoin="miter"/>
<polygon points="244.05,660.90 251.85,660.90 247.95,668.10" fill="#000" stroke="#000" stroke-width="1.6" stroke-linejoin="miter"/>
<polygon points="254.30,659.20 262.10,659.20 258.20,666.40" fill="#000" stroke="#000" stroke-width="1.6" stroke-linejoin="miter"/>
<polygon points="264.55,663.80 272.35,663.80 268.45,671.00" fill="#000" stroke="#000" stroke-width="1.6" stroke-linejoin="miter"/>
<polygon points="274.80,677.70 282.60,677.70 278.70,684.90" fill="#000" stroke="#000" stroke-width="1.6" stroke-linejoin="miter"/>
<path d="M122.60,691.50L122.60,688.70M122.60,691.50L125.26,690.63M122.60,691.50L124.25,693.77M122.60,691.50L120.95,693.77M122.60,691.50L119.94,690.63" stroke="#000" stroke-width="1.5" stroke-linecap="butt" fill="none"/>
<path d="M131.60,669.40L131.60,666.60M131.60,669.40L134.26,668.53M131.60,669.40L133.25,671.67M131.60,669.40L129.95,671.67M131.60,669.40L128.94,668.53" stroke="#000" stroke-width="1.5" stroke-linecap="butt" fill="none"/>
<path d="M143.50,652.40L143.50,649.60M143.50,652.40L146.16,651.53M143.50,652.40L145.15,654.67M143.50,652.40L141.85,654.67M143.50,652.40L140.84,651.53" stroke="#000" stroke-width="1.5" stroke-linecap="butt" fill="none"/>
<path d="M153.70,637.90L153.70,635.10M153.70,637.90L156.36,637.03M153.70,637.90L155.35,640.17M153.70,637.90L152.05,640.17M153.70,637.90L151.04,637.03" stroke="#000" stroke-width="1.5" stroke-linecap="butt" fill="none"/>
<path d="M163.40,625.10L163.40,622.30M163.40,625.10L166.06,624.23M163.40,625.10L165.05,627.37M163.40,625.10L161.75,627.37M163.40,625.10L160.74,624.23" stroke="#000" stroke-width="1.5" stroke-linecap="butt" fill="none"/>
<path d="M175.90,623.10L175.90,620.30M175.90,623.10L178.56,622.23M175.90,623.10L177.55,625.37M175.90,623.10L174.25,625.37M175.90,623.10L173.24,622.23" stroke="#000" stroke-width="1.5" stroke-linecap="butt" fill="none"/>
<path d="M187.30,623.10L187.30,620.30M187.30,623.10L189.96,622.23M187.30,623.10L188.95,625.37M187.30,623.10L185.65,625.37M187.30,623.10L184.64,622.23" stroke="#000" stroke-width="1.5" stroke-linecap="butt" fill="none"/>
<path d="M197.00,624.30L197.00,621.50M197.00,624.30L199.66,623.43M197.00,624.30L198.65,626.57M197.00,624.30L195.35,626.57M197.00,624.30L194.34,623.43" stroke="#000" stroke-width="1.5" stroke-linecap="butt" fill="none"/>
<path d="M205.30,627.00L205.30,624.20M205.30,627.00L207.96,626.13M205.30,627.00L206.95,629.27M205.30,627.00L203.65,629.27M205.30,627.00L202.64,626.13" stroke="#000" stroke-width="1.5" stroke-linecap="butt" fill="none"/>
<path d="M215.70,627.80L215.70,625.00M215.70,627.80L218.36,626.93M215.70,627.80L217.35,630.07M215.70,627.80L214.05,630.07M215.70,627.80L213.04,626.93" stroke="#000" stroke-width="1.5" stroke-linecap="butt" fill="none"/>
<path d="M227.70,630.30L227.70,627.50M227.70,630.30L230.36,629.43M227.70,630.30L229.35,632.57M227.70,630.30L226.05,632.57M227.70,630.30L225.04,629.43" stroke="#000" stroke-width="1.5" stroke-linecap="butt" fill="none"/>
<path d="M249.20,631.10L249.20,628.30M249.20,631.10L251.86,630.23M249.20,631.10L250.85,633.37M249.20,631.10L247.55,633.37M249.20,631.10L246.54,630.23" stroke="#000" stroke-width="1.5" stroke-linecap="butt" fill="none"/>
<text x="312.30" y="594.00" font-size="21" text-anchor="start" font-weight="bold" fill="#000">j</text>
<line x1="349.00" y1="602.40" x2="349.00" y2="777.60" stroke="#000" stroke-width="1.6"/>
<line x1="342.00" y1="777.60" x2="349.00" y2="777.60" stroke="#000" stroke-width="1.6"/>
<text x="340.50" y="781.63" font-size="11.2" text-anchor="end" font-weight="normal" fill="#000" letter-spacing="0.3">0.7</text>
<line x1="342.00" y1="742.56" x2="349.00" y2="742.56" stroke="#000" stroke-width="1.6"/>
<text x="340.50" y="746.59" font-size="11.2" text-anchor="end" font-weight="normal" fill="#000" letter-spacing="0.3">0.8</text>
<line x1="342.00" y1="707.52" x2="349.00" y2="707.52" stroke="#000" stroke-width="1.6"/>
<text x="340.50" y="711.55" font-size="11.2" text-anchor="end" font-weight="normal" fill="#000" letter-spacing="0.3">0.9</text>
<line x1="342.00" y1="672.48" x2="349.00" y2="672.48" stroke="#000" stroke-width="1.6"/>
<text x="340.50" y="676.51" font-size="11.2" text-anchor="end" font-weight="normal" fill="#000" letter-spacing="0.3">1.0</text>
<line x1="342.00" y1="637.44" x2="349.00" y2="637.44" stroke="#000" stroke-width="1.6"/>
<text x="340.50" y="641.47" font-size="11.2" text-anchor="end" font-weight="normal" fill="#000" letter-spacing="0.3">1.1</text>
<line x1="342.00" y1="602.40" x2="349.00" y2="602.40" stroke="#000" stroke-width="1.6"/>
<text x="340.50" y="606.43" font-size="11.2" text-anchor="end" font-weight="normal" fill="#000" letter-spacing="0.3">1.2</text>
<line x1="342.00" y1="777.60" x2="605.00" y2="777.60" stroke="#000" stroke-width="1.6"/>
<line x1="359.90" y1="777.60" x2="359.90" y2="781.60" stroke="#000" stroke-width="1.6"/>
<line x1="370.10" y1="777.60" x2="370.10" y2="781.60" stroke="#000" stroke-width="1.6"/>
<line x1="380.30" y1="777.60" x2="380.30" y2="781.60" stroke="#000" stroke-width="1.6"/>
<line x1="390.50" y1="777.60" x2="390.50" y2="781.60" stroke="#000" stroke-width="1.6"/>
<line x1="400.70" y1="777.60" x2="400.70" y2="781.60" stroke="#000" stroke-width="1.6"/>
<line x1="410.90" y1="777.60" x2="410.90" y2="781.60" stroke="#000" stroke-width="1.6"/>
<line x1="421.10" y1="777.60" x2="421.10" y2="781.60" stroke="#000" stroke-width="1.6"/>
<line x1="431.30" y1="777.60" x2="431.30" y2="781.60" stroke="#000" stroke-width="1.6"/>
<line x1="441.50" y1="777.60" x2="441.50" y2="781.60" stroke="#000" stroke-width="1.6"/>
<line x1="451.70" y1="777.60" x2="451.70" y2="781.60" stroke="#000" stroke-width="1.6"/>
<line x1="461.90" y1="777.60" x2="461.90" y2="781.60" stroke="#000" stroke-width="1.6"/>
<line x1="472.10" y1="777.60" x2="472.10" y2="781.60" stroke="#000" stroke-width="1.6"/>
<line x1="482.30" y1="777.60" x2="482.30" y2="781.60" stroke="#000" stroke-width="1.6"/>
<line x1="492.50" y1="777.60" x2="492.50" y2="781.60" stroke="#000" stroke-width="1.6"/>
<line x1="502.70" y1="777.60" x2="502.70" y2="781.60" stroke="#000" stroke-width="1.6"/>
<line x1="512.90" y1="777.60" x2="512.90" y2="781.60" stroke="#000" stroke-width="1.6"/>
<line x1="523.10" y1="777.60" x2="523.10" y2="781.60" stroke="#000" stroke-width="1.6"/>
<line x1="533.30" y1="777.60" x2="533.30" y2="781.60" stroke="#000" stroke-width="1.6"/>
<line x1="543.50" y1="777.60" x2="543.50" y2="781.60" stroke="#000" stroke-width="1.6"/>
<line x1="553.70" y1="777.60" x2="553.70" y2="781.60" stroke="#000" stroke-width="1.6"/>
<line x1="563.90" y1="777.60" x2="563.90" y2="781.60" stroke="#000" stroke-width="1.6"/>
<line x1="574.10" y1="777.60" x2="574.10" y2="781.60" stroke="#000" stroke-width="1.6"/>
<line x1="584.30" y1="777.60" x2="584.30" y2="781.60" stroke="#000" stroke-width="1.6"/>
<line x1="594.50" y1="777.60" x2="594.50" y2="781.60" stroke="#000" stroke-width="1.6"/>
<text x="359.10" y="797.00" font-size="11.2" text-anchor="middle" font-weight="normal" fill="#000" letter-spacing="0.3">10:00</text>
<text x="399.90" y="797.00" font-size="11.2" text-anchor="middle" font-weight="normal" fill="#000" letter-spacing="0.3">14:00</text>
<text x="440.70" y="797.00" font-size="11.2" text-anchor="middle" font-weight="normal" fill="#000" letter-spacing="0.3">18:00</text>
<text x="481.50" y="797.00" font-size="11.2" text-anchor="middle" font-weight="normal" fill="#000" letter-spacing="0.3">22:00</text>
<text x="522.30" y="797.00" font-size="11.2" text-anchor="middle" font-weight="normal" fill="#000" letter-spacing="0.3">02:00</text>
<text x="563.10" y="797.00" font-size="11.2" text-anchor="middle" font-weight="normal" fill="#000" letter-spacing="0.3">06:00</text>
<text x="479.10" y="818.50" font-size="13.5" text-anchor="middle" font-weight="normal" fill="#000">Time of day (hours)</text>
<text x="316.60" y="689.90" font-size="13.4" text-anchor="middle" font-weight="normal" fill="#000" transform="rotate(-90 316.60 689.90)">RQ</text>
<line x1="359.90" y1="687.10" x2="359.90" y2="707.10" stroke="#808080" stroke-width="1.5"/>
<line x1="355.60" y1="687.10" x2="364.20" y2="687.10" stroke="#808080" stroke-width="1.5"/>
<line x1="355.60" y1="707.10" x2="364.20" y2="707.10" stroke="#808080" stroke-width="1.5"/>
<line x1="370.10" y1="691.70" x2="370.10" y2="715.70" stroke="#808080" stroke-width="1.5"/>
<line x1="365.80" y1="691.70" x2="374.40" y2="691.70" stroke="#808080" stroke-width="1.5"/>
<line x1="365.80" y1="715.70" x2="374.40" y2="715.70" stroke="#808080" stroke-width="1.5"/>
<line x1="380.30" y1="676.70" x2="380.30" y2="708.70" stroke="#808080" stroke-width="1.5"/>
<line x1="376.00" y1="676.70" x2="384.60" y2="676.70" stroke="#808080" stroke-width="1.5"/>
<line x1="376.00" y1="708.70" x2="384.60" y2="708.70" stroke="#808080" stroke-width="1.5"/>
<line x1="390.50" y1="697.80" x2="390.50" y2="723.80" stroke="#808080" stroke-width="1.5"/>
<line x1="386.20" y1="697.80" x2="394.80" y2="697.80" stroke="#808080" stroke-width="1.5"/>
<line x1="386.20" y1="723.80" x2="394.80" y2="723.80" stroke="#808080" stroke-width="1.5"/>
<line x1="400.70" y1="689.70" x2="400.70" y2="723.70" stroke="#808080" stroke-width="1.5"/>
<line x1="396.40" y1="689.70" x2="405.00" y2="689.70" stroke="#808080" stroke-width="1.5"/>
<line x1="396.40" y1="723.70" x2="405.00" y2="723.70" stroke="#808080" stroke-width="1.5"/>
<line x1="410.90" y1="700.30" x2="410.90" y2="720.30" stroke="#808080" stroke-width="1.5"/>
<line x1="406.60" y1="700.30" x2="415.20" y2="700.30" stroke="#808080" stroke-width="1.5"/>
<line x1="406.60" y1="720.30" x2="415.20" y2="720.30" stroke="#808080" stroke-width="1.5"/>
<line x1="421.10" y1="704.00" x2="421.10" y2="720.00" stroke="#808080" stroke-width="1.5"/>
<line x1="416.80" y1="704.00" x2="425.40" y2="704.00" stroke="#808080" stroke-width="1.5"/>
<line x1="416.80" y1="720.00" x2="425.40" y2="720.00" stroke="#808080" stroke-width="1.5"/>
<line x1="431.30" y1="692.10" x2="431.30" y2="712.10" stroke="#808080" stroke-width="1.5"/>
<line x1="427.00" y1="692.10" x2="435.60" y2="692.10" stroke="#808080" stroke-width="1.5"/>
<line x1="427.00" y1="712.10" x2="435.60" y2="712.10" stroke="#808080" stroke-width="1.5"/>
<line x1="441.50" y1="681.40" x2="441.50" y2="704.20" stroke="#808080" stroke-width="1.5"/>
<line x1="437.20" y1="681.40" x2="445.80" y2="681.40" stroke="#808080" stroke-width="1.5"/>
<line x1="437.20" y1="704.20" x2="445.80" y2="704.20" stroke="#808080" stroke-width="1.5"/>
<line x1="451.70" y1="661.30" x2="451.70" y2="672.50" stroke="#808080" stroke-width="1.5"/>
<line x1="447.40" y1="661.30" x2="456.00" y2="661.30" stroke="#808080" stroke-width="1.5"/>
<line x1="447.40" y1="672.50" x2="456.00" y2="672.50" stroke="#808080" stroke-width="1.5"/>
<line x1="461.90" y1="655.70" x2="461.90" y2="682.50" stroke="#808080" stroke-width="1.5"/>
<line x1="457.60" y1="655.70" x2="466.20" y2="655.70" stroke="#808080" stroke-width="1.5"/>
<line x1="457.60" y1="682.50" x2="466.20" y2="682.50" stroke="#808080" stroke-width="1.5"/>
<line x1="472.10" y1="652.20" x2="472.10" y2="664.20" stroke="#808080" stroke-width="1.5"/>
<line x1="467.80" y1="652.20" x2="476.40" y2="652.20" stroke="#808080" stroke-width="1.5"/>
<line x1="467.80" y1="664.20" x2="476.40" y2="664.20" stroke="#808080" stroke-width="1.5"/>
<line x1="482.30" y1="648.60" x2="482.30" y2="656.60" stroke="#808080" stroke-width="1.5"/>
<line x1="478.00" y1="648.60" x2="486.60" y2="648.60" stroke="#808080" stroke-width="1.5"/>
<line x1="478.00" y1="656.60" x2="486.60" y2="656.60" stroke="#808080" stroke-width="1.5"/>
<line x1="492.50" y1="642.20" x2="492.50" y2="655.40" stroke="#808080" stroke-width="1.5"/>
<line x1="488.20" y1="642.20" x2="496.80" y2="642.20" stroke="#808080" stroke-width="1.5"/>
<line x1="488.20" y1="655.40" x2="496.80" y2="655.40" stroke="#808080" stroke-width="1.5"/>
<line x1="502.70" y1="645.50" x2="502.70" y2="670.30" stroke="#808080" stroke-width="1.5"/>
<line x1="498.40" y1="645.50" x2="507.00" y2="645.50" stroke="#808080" stroke-width="1.5"/>
<line x1="498.40" y1="670.30" x2="507.00" y2="670.30" stroke="#808080" stroke-width="1.5"/>
<line x1="512.90" y1="641.50" x2="512.90" y2="649.50" stroke="#808080" stroke-width="1.5"/>
<line x1="508.60" y1="641.50" x2="517.20" y2="641.50" stroke="#808080" stroke-width="1.5"/>
<line x1="508.60" y1="649.50" x2="517.20" y2="649.50" stroke="#808080" stroke-width="1.5"/>
<line x1="523.10" y1="636.60" x2="523.10" y2="647.80" stroke="#808080" stroke-width="1.5"/>
<line x1="518.80" y1="636.60" x2="527.40" y2="636.60" stroke="#808080" stroke-width="1.5"/>
<line x1="518.80" y1="647.80" x2="527.40" y2="647.80" stroke="#808080" stroke-width="1.5"/>
<line x1="533.30" y1="637.70" x2="533.30" y2="648.30" stroke="#808080" stroke-width="1.5"/>
<line x1="529.00" y1="637.70" x2="537.60" y2="637.70" stroke="#808080" stroke-width="1.5"/>
<line x1="529.00" y1="648.30" x2="537.60" y2="648.30" stroke="#808080" stroke-width="1.5"/>
<line x1="543.50" y1="639.00" x2="543.50" y2="647.00" stroke="#808080" stroke-width="1.5"/>
<line x1="539.20" y1="639.00" x2="547.80" y2="639.00" stroke="#808080" stroke-width="1.5"/>
<line x1="539.20" y1="647.00" x2="547.80" y2="647.00" stroke="#808080" stroke-width="1.5"/>
<line x1="553.70" y1="651.10" x2="553.70" y2="664.30" stroke="#808080" stroke-width="1.5"/>
<line x1="549.40" y1="651.10" x2="558.00" y2="651.10" stroke="#808080" stroke-width="1.5"/>
<line x1="549.40" y1="664.30" x2="558.00" y2="664.30" stroke="#808080" stroke-width="1.5"/>
<line x1="563.90" y1="640.60" x2="563.90" y2="666.60" stroke="#808080" stroke-width="1.5"/>
<line x1="559.60" y1="640.60" x2="568.20" y2="640.60" stroke="#808080" stroke-width="1.5"/>
<line x1="559.60" y1="666.60" x2="568.20" y2="666.60" stroke="#808080" stroke-width="1.5"/>
<line x1="574.10" y1="658.60" x2="574.10" y2="681.20" stroke="#808080" stroke-width="1.5"/>
<line x1="569.80" y1="658.60" x2="578.40" y2="658.60" stroke="#808080" stroke-width="1.5"/>
<line x1="569.80" y1="681.20" x2="578.40" y2="681.20" stroke="#808080" stroke-width="1.5"/>
<line x1="584.30" y1="663.90" x2="584.30" y2="695.90" stroke="#808080" stroke-width="1.5"/>
<line x1="580.00" y1="663.90" x2="588.60" y2="663.90" stroke="#808080" stroke-width="1.5"/>
<line x1="580.00" y1="695.90" x2="588.60" y2="695.90" stroke="#808080" stroke-width="1.5"/>
<line x1="594.50" y1="679.70" x2="594.50" y2="699.70" stroke="#808080" stroke-width="1.5"/>
<line x1="590.20" y1="679.70" x2="598.80" y2="679.70" stroke="#808080" stroke-width="1.5"/>
<line x1="590.20" y1="699.70" x2="598.80" y2="699.70" stroke="#808080" stroke-width="1.5"/>
<line x1="359.90" y1="702.90" x2="359.90" y2="714.50" stroke="#383838" stroke-width="1.5"/>
<line x1="355.60" y1="702.90" x2="364.20" y2="702.90" stroke="#383838" stroke-width="1.5"/>
<line x1="355.60" y1="714.50" x2="364.20" y2="714.50" stroke="#383838" stroke-width="1.5"/>
<line x1="370.10" y1="710.10" x2="370.10" y2="722.10" stroke="#383838" stroke-width="1.5"/>
<line x1="365.80" y1="710.10" x2="374.40" y2="710.10" stroke="#383838" stroke-width="1.5"/>
<line x1="365.80" y1="722.10" x2="374.40" y2="722.10" stroke="#383838" stroke-width="1.5"/>
<line x1="380.30" y1="714.40" x2="380.30" y2="728.40" stroke="#383838" stroke-width="1.5"/>
<line x1="376.00" y1="714.40" x2="384.60" y2="714.40" stroke="#383838" stroke-width="1.5"/>
<line x1="376.00" y1="728.40" x2="384.60" y2="728.40" stroke="#383838" stroke-width="1.5"/>
<line x1="390.50" y1="726.30" x2="390.50" y2="737.30" stroke="#383838" stroke-width="1.5"/>
<line x1="386.20" y1="726.30" x2="394.80" y2="726.30" stroke="#383838" stroke-width="1.5"/>
<line x1="386.20" y1="737.30" x2="394.80" y2="737.30" stroke="#383838" stroke-width="1.5"/>
<line x1="400.70" y1="725.90" x2="400.70" y2="735.30" stroke="#383838" stroke-width="1.5"/>
<line x1="396.40" y1="725.90" x2="405.00" y2="725.90" stroke="#383838" stroke-width="1.5"/>
<line x1="396.40" y1="735.30" x2="405.00" y2="735.30" stroke="#383838" stroke-width="1.5"/>
<line x1="410.90" y1="721.60" x2="410.90" y2="737.00" stroke="#383838" stroke-width="1.5"/>
<line x1="406.60" y1="721.60" x2="415.20" y2="721.60" stroke="#383838" stroke-width="1.5"/>
<line x1="406.60" y1="737.00" x2="415.20" y2="737.00" stroke="#383838" stroke-width="1.5"/>
<line x1="421.10" y1="706.70" x2="421.10" y2="723.90" stroke="#383838" stroke-width="1.5"/>
<line x1="416.80" y1="706.70" x2="425.40" y2="706.70" stroke="#383838" stroke-width="1.5"/>
<line x1="416.80" y1="723.90" x2="425.40" y2="723.90" stroke="#383838" stroke-width="1.5"/>
<line x1="431.30" y1="710.90" x2="431.30" y2="727.90" stroke="#383838" stroke-width="1.5"/>
<line x1="427.00" y1="710.90" x2="435.60" y2="710.90" stroke="#383838" stroke-width="1.5"/>
<line x1="427.00" y1="727.90" x2="435.60" y2="727.90" stroke="#383838" stroke-width="1.5"/>
<line x1="441.50" y1="720.10" x2="441.50" y2="731.30" stroke="#383838" stroke-width="1.5"/>
<line x1="437.20" y1="720.10" x2="445.80" y2="720.10" stroke="#383838" stroke-width="1.5"/>
<line x1="437.20" y1="731.30" x2="445.80" y2="731.30" stroke="#383838" stroke-width="1.5"/>
<line x1="451.70" y1="717.90" x2="451.70" y2="729.90" stroke="#383838" stroke-width="1.5"/>
<line x1="447.40" y1="717.90" x2="456.00" y2="717.90" stroke="#383838" stroke-width="1.5"/>
<line x1="447.40" y1="729.90" x2="456.00" y2="729.90" stroke="#383838" stroke-width="1.5"/>
<line x1="461.90" y1="699.70" x2="461.90" y2="716.70" stroke="#383838" stroke-width="1.5"/>
<line x1="457.60" y1="699.70" x2="466.20" y2="699.70" stroke="#383838" stroke-width="1.5"/>
<line x1="457.60" y1="716.70" x2="466.20" y2="716.70" stroke="#383838" stroke-width="1.5"/>
<line x1="472.10" y1="681.90" x2="472.10" y2="699.10" stroke="#383838" stroke-width="1.5"/>
<line x1="467.80" y1="681.90" x2="476.40" y2="681.90" stroke="#383838" stroke-width="1.5"/>
<line x1="467.80" y1="699.10" x2="476.40" y2="699.10" stroke="#383838" stroke-width="1.5"/>
<line x1="482.30" y1="681.70" x2="482.30" y2="691.70" stroke="#383838" stroke-width="1.5"/>
<line x1="478.00" y1="681.70" x2="486.60" y2="681.70" stroke="#383838" stroke-width="1.5"/>
<line x1="478.00" y1="691.70" x2="486.60" y2="691.70" stroke="#383838" stroke-width="1.5"/>
<line x1="492.50" y1="669.90" x2="492.50" y2="685.50" stroke="#383838" stroke-width="1.5"/>
<line x1="488.20" y1="669.90" x2="496.80" y2="669.90" stroke="#383838" stroke-width="1.5"/>
<line x1="488.20" y1="685.50" x2="496.80" y2="685.50" stroke="#383838" stroke-width="1.5"/>
<line x1="502.70" y1="667.10" x2="502.70" y2="686.50" stroke="#383838" stroke-width="1.5"/>
<line x1="498.40" y1="667.10" x2="507.00" y2="667.10" stroke="#383838" stroke-width="1.5"/>
<line x1="498.40" y1="686.50" x2="507.00" y2="686.50" stroke="#383838" stroke-width="1.5"/>
<line x1="512.90" y1="664.20" x2="512.90" y2="681.20" stroke="#383838" stroke-width="1.5"/>
<line x1="508.60" y1="664.20" x2="517.20" y2="664.20" stroke="#383838" stroke-width="1.5"/>
<line x1="508.60" y1="681.20" x2="517.20" y2="681.20" stroke="#383838" stroke-width="1.5"/>
<line x1="523.10" y1="657.10" x2="523.10" y2="676.70" stroke="#383838" stroke-width="1.5"/>
<line x1="518.80" y1="657.10" x2="527.40" y2="657.10" stroke="#383838" stroke-width="1.5"/>
<line x1="518.80" y1="676.70" x2="527.40" y2="676.70" stroke="#383838" stroke-width="1.5"/>
<line x1="533.30" y1="655.80" x2="533.30" y2="675.40" stroke="#383838" stroke-width="1.5"/>
<line x1="529.00" y1="655.80" x2="537.60" y2="655.80" stroke="#383838" stroke-width="1.5"/>
<line x1="529.00" y1="675.40" x2="537.60" y2="675.40" stroke="#383838" stroke-width="1.5"/>
<line x1="543.50" y1="654.30" x2="543.50" y2="673.90" stroke="#383838" stroke-width="1.5"/>
<line x1="539.20" y1="654.30" x2="547.80" y2="654.30" stroke="#383838" stroke-width="1.5"/>
<line x1="539.20" y1="673.90" x2="547.80" y2="673.90" stroke="#383838" stroke-width="1.5"/>
<line x1="553.70" y1="660.80" x2="553.70" y2="676.80" stroke="#383838" stroke-width="1.5"/>
<line x1="549.40" y1="660.80" x2="558.00" y2="660.80" stroke="#383838" stroke-width="1.5"/>
<line x1="549.40" y1="676.80" x2="558.00" y2="676.80" stroke="#383838" stroke-width="1.5"/>
<line x1="563.90" y1="667.50" x2="563.90" y2="688.10" stroke="#383838" stroke-width="1.5"/>
<line x1="559.60" y1="667.50" x2="568.20" y2="667.50" stroke="#383838" stroke-width="1.5"/>
<line x1="559.60" y1="688.10" x2="568.20" y2="688.10" stroke="#383838" stroke-width="1.5"/>
<line x1="574.10" y1="677.40" x2="574.10" y2="698.80" stroke="#383838" stroke-width="1.5"/>
<line x1="569.80" y1="677.40" x2="578.40" y2="677.40" stroke="#383838" stroke-width="1.5"/>
<line x1="569.80" y1="698.80" x2="578.40" y2="698.80" stroke="#383838" stroke-width="1.5"/>
<line x1="584.30" y1="678.50" x2="584.30" y2="697.70" stroke="#383838" stroke-width="1.5"/>
<line x1="580.00" y1="678.50" x2="588.60" y2="678.50" stroke="#383838" stroke-width="1.5"/>
<line x1="580.00" y1="697.70" x2="588.60" y2="697.70" stroke="#383838" stroke-width="1.5"/>
<line x1="594.50" y1="680.00" x2="594.50" y2="702.60" stroke="#383838" stroke-width="1.5"/>
<line x1="590.20" y1="680.00" x2="598.80" y2="680.00" stroke="#383838" stroke-width="1.5"/>
<line x1="590.20" y1="702.60" x2="598.80" y2="702.60" stroke="#383838" stroke-width="1.5"/>
<polyline points="359.90,697.10 370.10,703.70 380.30,692.70 390.50,710.80 400.70,706.70 410.90,710.30 421.10,712.00 431.30,702.10 441.50,692.80 451.70,666.90 461.90,669.10 472.10,658.20 482.30,652.60 492.50,648.80 502.70,657.90 512.90,645.50 523.10,642.20 533.30,643.00 543.50,643.00 553.70,657.70 563.90,653.60 574.10,669.90 584.30,679.90 594.50,689.70" fill="none" stroke="#000" stroke-width="1.7" stroke-linejoin="round"/>
<polyline points="359.90,708.70 370.10,716.10 380.30,721.40 390.50,731.80 400.70,730.60 410.90,729.30 421.10,715.30 431.30,719.40 441.50,725.70 451.70,723.90 461.90,708.20 472.10,690.50 482.30,686.70 492.50,677.70 502.70,676.80 512.90,672.70 523.10,666.90 533.30,665.60 543.50,664.10 553.70,668.80 563.90,677.80 574.10,688.10 584.30,688.10 594.50,691.30" fill="none" stroke="#000" stroke-width="1.7" stroke-linejoin="round"/>
<polygon points="356.00,693.50 363.80,693.50 359.90,700.70" fill="#fff" stroke="#000" stroke-width="1.6" stroke-linejoin="miter"/>
<polygon points="366.20,700.10 374.00,700.10 370.10,707.30" fill="#fff" stroke="#000" stroke-width="1.6" stroke-linejoin="miter"/>
<polygon points="376.40,689.10 384.20,689.10 380.30,696.30" fill="#fff" stroke="#000" stroke-width="1.6" stroke-linejoin="miter"/>
<polygon points="386.60,707.20 394.40,707.20 390.50,714.40" fill="#fff" stroke="#000" stroke-width="1.6" stroke-linejoin="miter"/>
<polygon points="396.80,703.10 404.60,703.10 400.70,710.30" fill="#fff" stroke="#000" stroke-width="1.6" stroke-linejoin="miter"/>
<polygon points="407.00,706.70 414.80,706.70 410.90,713.90" fill="#fff" stroke="#000" stroke-width="1.6" stroke-linejoin="miter"/>
<polygon points="417.20,708.40 425.00,708.40 421.10,715.60" fill="#fff" stroke="#000" stroke-width="1.6" stroke-linejoin="miter"/>
<polygon points="427.40,698.50 435.20,698.50 431.30,705.70" fill="#fff" stroke="#000" stroke-width="1.6" stroke-linejoin="miter"/>
<polygon points="437.60,689.20 445.40,689.20 441.50,696.40" fill="#fff" stroke="#000" stroke-width="1.6" stroke-linejoin="miter"/>
<polygon points="447.80,663.30 455.60,663.30 451.70,670.50" fill="#fff" stroke="#000" stroke-width="1.6" stroke-linejoin="miter"/>
<polygon points="458.00,665.50 465.80,665.50 461.90,672.70" fill="#fff" stroke="#000" stroke-width="1.6" stroke-linejoin="miter"/>
<polygon points="468.20,654.60 476.00,654.60 472.10,661.80" fill="#fff" stroke="#000" stroke-width="1.6" stroke-linejoin="miter"/>
<polygon points="478.40,649.00 486.20,649.00 482.30,656.20" fill="#fff" stroke="#000" stroke-width="1.6" stroke-linejoin="miter"/>
<polygon points="488.60,645.20 496.40,645.20 492.50,652.40" fill="#fff" stroke="#000" stroke-width="1.6" stroke-linejoin="miter"/>
<polygon points="498.80,654.30 506.60,654.30 502.70,661.50" fill="#fff" stroke="#000" stroke-width="1.6" stroke-linejoin="miter"/>
<polygon points="509.00,641.90 516.80,641.90 512.90,649.10" fill="#fff" stroke="#000" stroke-width="1.6" stroke-linejoin="miter"/>
<polygon points="519.20,638.60 527.00,638.60 523.10,645.80" fill="#fff" stroke="#000" stroke-width="1.6" stroke-linejoin="miter"/>
<polygon points="529.40,639.40 537.20,639.40 533.30,646.60" fill="#fff" stroke="#000" stroke-width="1.6" stroke-linejoin="miter"/>
<polygon points="539.60,639.40 547.40,639.40 543.50,646.60" fill="#fff" stroke="#000" stroke-width="1.6" stroke-linejoin="miter"/>
<polygon points="549.80,654.10 557.60,654.10 553.70,661.30" fill="#fff" stroke="#000" stroke-width="1.6" stroke-linejoin="miter"/>
<polygon points="560.00,650.00 567.80,650.00 563.90,657.20" fill="#fff" stroke="#000" stroke-width="1.6" stroke-linejoin="miter"/>
<polygon points="570.20,666.30 578.00,666.30 574.10,673.50" fill="#fff" stroke="#000" stroke-width="1.6" stroke-linejoin="miter"/>
<polygon points="580.40,676.30 588.20,676.30 584.30,683.50" fill="#fff" stroke="#000" stroke-width="1.6" stroke-linejoin="miter"/>
<polygon points="590.60,686.10 598.40,686.10 594.50,693.30" fill="#fff" stroke="#000" stroke-width="1.6" stroke-linejoin="miter"/>
<polygon points="356.00,705.10 363.80,705.10 359.90,712.30" fill="#000" stroke="#000" stroke-width="1.6" stroke-linejoin="miter"/>
<polygon points="366.20,712.50 374.00,712.50 370.10,719.70" fill="#000" stroke="#000" stroke-width="1.6" stroke-linejoin="miter"/>
<polygon points="376.40,717.80 384.20,717.80 380.30,725.00" fill="#000" stroke="#000" stroke-width="1.6" stroke-linejoin="miter"/>
<polygon points="386.60,728.20 394.40,728.20 390.50,735.40" fill="#000" stroke="#000" stroke-width="1.6" stroke-linejoin="miter"/>
<polygon points="396.80,727.00 404.60,727.00 400.70,734.20" fill="#000" stroke="#000" stroke-width="1.6" stroke-linejoin="miter"/>
<polygon points="407.00,725.70 414.80,725.70 410.90,732.90" fill="#000" stroke="#000" stroke-width="1.6" stroke-linejoin="miter"/>
<polygon points="417.20,711.70 425.00,711.70 421.10,718.90" fill="#000" stroke="#000" stroke-width="1.6" stroke-linejoin="miter"/>
<polygon points="427.40,715.80 435.20,715.80 431.30,723.00" fill="#000" stroke="#000" stroke-width="1.6" stroke-linejoin="miter"/>
<polygon points="437.60,722.10 445.40,722.10 441.50,729.30" fill="#000" stroke="#000" stroke-width="1.6" stroke-linejoin="miter"/>
<polygon points="447.80,720.30 455.60,720.30 451.70,727.50" fill="#000" stroke="#000" stroke-width="1.6" stroke-linejoin="miter"/>
<polygon points="458.00,704.60 465.80,704.60 461.90,711.80" fill="#000" stroke="#000" stroke-width="1.6" stroke-linejoin="miter"/>
<polygon points="468.20,686.90 476.00,686.90 472.10,694.10" fill="#000" stroke="#000" stroke-width="1.6" stroke-linejoin="miter"/>
<polygon points="478.40,683.10 486.20,683.10 482.30,690.30" fill="#000" stroke="#000" stroke-width="1.6" stroke-linejoin="miter"/>
<polygon points="488.60,674.10 496.40,674.10 492.50,681.30" fill="#000" stroke="#000" stroke-width="1.6" stroke-linejoin="miter"/>
<polygon points="498.80,673.20 506.60,673.20 502.70,680.40" fill="#000" stroke="#000" stroke-width="1.6" stroke-linejoin="miter"/>
<polygon points="509.00,669.10 516.80,669.10 512.90,676.30" fill="#000" stroke="#000" stroke-width="1.6" stroke-linejoin="miter"/>
<polygon points="519.20,663.30 527.00,663.30 523.10,670.50" fill="#000" stroke="#000" stroke-width="1.6" stroke-linejoin="miter"/>
<polygon points="529.40,662.00 537.20,662.00 533.30,669.20" fill="#000" stroke="#000" stroke-width="1.6" stroke-linejoin="miter"/>
<polygon points="539.60,660.50 547.40,660.50 543.50,667.70" fill="#000" stroke="#000" stroke-width="1.6" stroke-linejoin="miter"/>
<polygon points="549.80,665.20 557.60,665.20 553.70,672.40" fill="#000" stroke="#000" stroke-width="1.6" stroke-linejoin="miter"/>
<polygon points="560.00,674.20 567.80,674.20 563.90,681.40" fill="#000" stroke="#000" stroke-width="1.6" stroke-linejoin="miter"/>
<polygon points="570.20,684.50 578.00,684.50 574.10,691.70" fill="#000" stroke="#000" stroke-width="1.6" stroke-linejoin="miter"/>
<polygon points="580.40,684.50 588.20,684.50 584.30,691.70" fill="#000" stroke="#000" stroke-width="1.6" stroke-linejoin="miter"/>
<polygon points="590.60,687.70 598.40,687.70 594.50,694.90" fill="#000" stroke="#000" stroke-width="1.6" stroke-linejoin="miter"/>
<path d="M437.40,659.50L437.40,656.70M437.40,659.50L440.06,658.63M437.40,659.50L439.05,661.77M437.40,659.50L435.75,661.77M437.40,659.50L434.74,658.63" stroke="#000" stroke-width="1.5" stroke-linecap="butt" fill="none"/>
<path d="M447.30,641.70L447.30,638.90M447.30,641.70L449.96,640.83M447.30,641.70L448.95,643.97M447.30,641.70L445.65,643.97M447.30,641.70L444.64,640.83" stroke="#000" stroke-width="1.5" stroke-linecap="butt" fill="none"/>
<path d="M457.70,632.80L457.70,630.00M457.70,632.80L460.36,631.93M457.70,632.80L459.35,635.07M457.70,632.80L456.05,635.07M457.70,632.80L455.04,631.93" stroke="#000" stroke-width="1.5" stroke-linecap="butt" fill="none"/>
<path d="M469.30,624.50L469.30,621.70M469.30,624.50L471.96,623.63M469.30,624.50L470.95,626.77M469.30,624.50L467.65,626.77M469.30,624.50L466.64,623.63" stroke="#000" stroke-width="1.5" stroke-linecap="butt" fill="none"/>
<path d="M481.20,621.20L481.20,618.40M481.20,621.20L483.86,620.33M481.20,621.20L482.85,623.47M481.20,621.20L479.55,623.47M481.20,621.20L478.54,620.33" stroke="#000" stroke-width="1.5" stroke-linecap="butt" fill="none"/>
<path d="M494.90,619.10L494.90,616.30M494.90,619.10L497.56,618.23M494.90,619.10L496.55,621.37M494.90,619.10L493.25,621.37M494.90,619.10L492.24,618.23" stroke="#000" stroke-width="1.5" stroke-linecap="butt" fill="none"/>
<path d="M510.50,619.10L510.50,616.30M510.50,619.10L513.16,618.23M510.50,619.10L512.15,621.37M510.50,619.10L508.85,621.37M510.50,619.10L507.84,618.23" stroke="#000" stroke-width="1.5" stroke-linecap="butt" fill="none"/>
</svg>
</body></html>
